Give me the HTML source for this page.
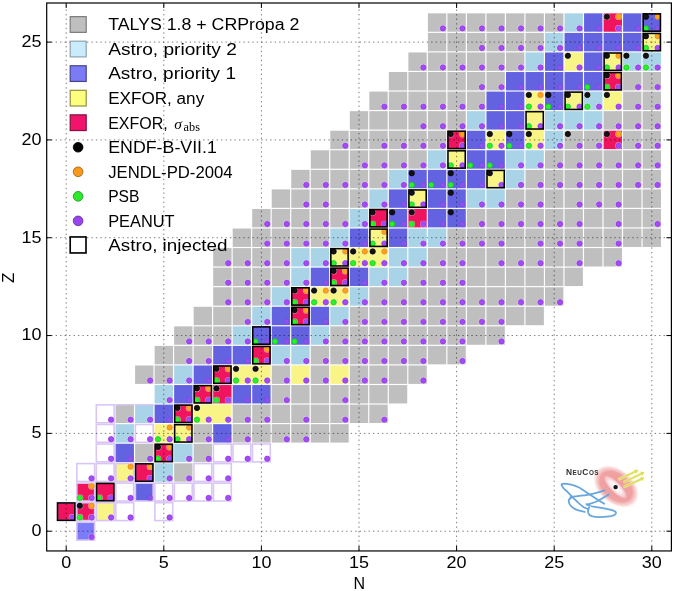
<!DOCTYPE html>
<html><head><meta charset="utf-8">
<style>
html,body{margin:0;padding:0;background:#fff;}
body{width:675px;height:591px;overflow:hidden;}
svg{display:block;will-change:transform;}
text{font-family:"Liberation Sans",sans-serif;font-size:16px;fill:#000;}
</style></head><body>
<svg width="675" height="591" viewBox="0 0 675 591">
<rect width="675" height="591" fill="#fff"/>
<g><rect x="427.90" y="13.33" width="18.36" height="18.40" fill="#bfbfbf"/><rect x="447.42" y="13.33" width="18.36" height="18.40" fill="#bfbfbf"/><rect x="466.94" y="13.33" width="18.36" height="18.40" fill="#bfbfbf"/><rect x="486.46" y="13.33" width="18.36" height="18.40" fill="#bfbfbf"/><rect x="505.98" y="13.33" width="18.36" height="18.40" fill="#bfbfbf"/><rect x="525.50" y="13.33" width="18.36" height="18.40" fill="#bfbfbf"/><rect x="545.02" y="13.33" width="18.36" height="18.40" fill="#bfbfbf"/><rect x="564.54" y="13.33" width="18.36" height="18.40" fill="#a9d4e7"/><rect x="584.06" y="13.33" width="18.36" height="18.40" fill="#6363e2"/><rect x="603.58" y="13.33" width="18.36" height="18.40" fill="#f0145f"/><rect x="623.10" y="13.33" width="18.36" height="18.40" fill="#6363e2"/><rect x="642.62" y="13.33" width="18.36" height="18.40" fill="#6363e2"/><rect x="427.90" y="32.90" width="18.36" height="18.40" fill="#bfbfbf"/><rect x="447.42" y="32.90" width="18.36" height="18.40" fill="#bfbfbf"/><rect x="466.94" y="32.90" width="18.36" height="18.40" fill="#bfbfbf"/><rect x="486.46" y="32.90" width="18.36" height="18.40" fill="#bfbfbf"/><rect x="505.98" y="32.90" width="18.36" height="18.40" fill="#bfbfbf"/><rect x="525.50" y="32.90" width="18.36" height="18.40" fill="#bfbfbf"/><rect x="545.02" y="32.90" width="18.36" height="18.40" fill="#a9d4e7"/><rect x="564.54" y="32.90" width="18.36" height="18.40" fill="#6363e2"/><rect x="584.06" y="32.90" width="18.36" height="18.40" fill="#6363e2"/><rect x="603.58" y="32.90" width="18.36" height="18.40" fill="#6363e2"/><rect x="623.10" y="32.90" width="18.36" height="18.40" fill="#6363e2"/><rect x="642.62" y="32.90" width="18.36" height="18.40" fill="#f8f486"/><rect x="408.38" y="52.46" width="18.36" height="18.40" fill="#bfbfbf"/><rect x="427.90" y="52.46" width="18.36" height="18.40" fill="#bfbfbf"/><rect x="447.42" y="52.46" width="18.36" height="18.40" fill="#bfbfbf"/><rect x="466.94" y="52.46" width="18.36" height="18.40" fill="#bfbfbf"/><rect x="486.46" y="52.46" width="18.36" height="18.40" fill="#bfbfbf"/><rect x="505.98" y="52.46" width="18.36" height="18.40" fill="#bfbfbf"/><rect x="525.50" y="52.46" width="18.36" height="18.40" fill="#a9d4e7"/><rect x="545.02" y="52.46" width="18.36" height="18.40" fill="#6363e2"/><rect x="564.54" y="52.46" width="18.36" height="18.40" fill="#f8f486"/><rect x="584.06" y="52.46" width="18.36" height="18.40" fill="#6363e2"/><rect x="603.58" y="52.46" width="18.36" height="18.40" fill="#f8f486"/><rect x="623.10" y="52.46" width="18.36" height="18.40" fill="#a9d4e7"/><rect x="642.62" y="52.46" width="18.36" height="18.40" fill="#a9d4e7"/><rect x="388.86" y="72.03" width="18.36" height="18.40" fill="#bfbfbf"/><rect x="408.38" y="72.03" width="18.36" height="18.40" fill="#bfbfbf"/><rect x="427.90" y="72.03" width="18.36" height="18.40" fill="#bfbfbf"/><rect x="447.42" y="72.03" width="18.36" height="18.40" fill="#bfbfbf"/><rect x="466.94" y="72.03" width="18.36" height="18.40" fill="#bfbfbf"/><rect x="486.46" y="72.03" width="18.36" height="18.40" fill="#bfbfbf"/><rect x="505.98" y="72.03" width="18.36" height="18.40" fill="#6363e2"/><rect x="525.50" y="72.03" width="18.36" height="18.40" fill="#6363e2"/><rect x="545.02" y="72.03" width="18.36" height="18.40" fill="#6363e2"/><rect x="564.54" y="72.03" width="18.36" height="18.40" fill="#6363e2"/><rect x="584.06" y="72.03" width="18.36" height="18.40" fill="#6363e2"/><rect x="603.58" y="72.03" width="18.36" height="18.40" fill="#f0145f"/><rect x="623.10" y="72.03" width="18.36" height="18.40" fill="#bfbfbf"/><rect x="642.62" y="72.03" width="18.36" height="18.40" fill="#bfbfbf"/><rect x="369.34" y="91.59" width="18.36" height="18.40" fill="#bfbfbf"/><rect x="388.86" y="91.59" width="18.36" height="18.40" fill="#bfbfbf"/><rect x="408.38" y="91.59" width="18.36" height="18.40" fill="#bfbfbf"/><rect x="427.90" y="91.59" width="18.36" height="18.40" fill="#bfbfbf"/><rect x="447.42" y="91.59" width="18.36" height="18.40" fill="#bfbfbf"/><rect x="466.94" y="91.59" width="18.36" height="18.40" fill="#bfbfbf"/><rect x="486.46" y="91.59" width="18.36" height="18.40" fill="#6363e2"/><rect x="505.98" y="91.59" width="18.36" height="18.40" fill="#6363e2"/><rect x="525.50" y="91.59" width="18.36" height="20.20" fill="#f8f486"/><rect x="545.02" y="91.59" width="18.36" height="18.40" fill="#6363e2"/><rect x="564.54" y="91.59" width="18.36" height="18.40" fill="#f8f486"/><rect x="584.06" y="91.59" width="18.36" height="18.40" fill="#a9d4e7"/><rect x="603.58" y="91.59" width="18.36" height="18.40" fill="#f8f486"/><rect x="623.10" y="91.59" width="18.36" height="18.40" fill="#bfbfbf"/><rect x="642.62" y="91.59" width="18.36" height="18.40" fill="#bfbfbf"/><rect x="349.82" y="111.15" width="18.36" height="18.40" fill="#bfbfbf"/><rect x="369.34" y="111.15" width="18.36" height="18.40" fill="#bfbfbf"/><rect x="388.86" y="111.15" width="18.36" height="18.40" fill="#bfbfbf"/><rect x="408.38" y="111.15" width="18.36" height="18.40" fill="#bfbfbf"/><rect x="427.90" y="111.15" width="18.36" height="18.40" fill="#bfbfbf"/><rect x="447.42" y="111.15" width="18.36" height="18.40" fill="#bfbfbf"/><rect x="466.94" y="111.15" width="18.36" height="18.40" fill="#a9d4e7"/><rect x="486.46" y="111.15" width="18.36" height="18.40" fill="#6363e2"/><rect x="505.98" y="111.15" width="18.36" height="18.40" fill="#6363e2"/><rect x="525.50" y="111.15" width="18.36" height="20.20" fill="#f8f486"/><rect x="545.02" y="111.15" width="18.36" height="18.40" fill="#a9d4e7"/><rect x="564.54" y="111.15" width="18.36" height="18.40" fill="#a9d4e7"/><rect x="584.06" y="111.15" width="18.36" height="18.40" fill="#a9d4e7"/><rect x="603.58" y="111.15" width="18.36" height="18.40" fill="#bfbfbf"/><rect x="623.10" y="111.15" width="18.36" height="18.40" fill="#bfbfbf"/><rect x="642.62" y="111.15" width="18.36" height="18.40" fill="#bfbfbf"/><rect x="330.30" y="130.72" width="18.36" height="18.40" fill="#bfbfbf"/><rect x="349.82" y="130.72" width="18.36" height="18.40" fill="#bfbfbf"/><rect x="369.34" y="130.72" width="18.36" height="18.40" fill="#bfbfbf"/><rect x="388.86" y="130.72" width="18.36" height="18.40" fill="#bfbfbf"/><rect x="408.38" y="130.72" width="18.36" height="18.40" fill="#bfbfbf"/><rect x="427.90" y="130.72" width="18.36" height="18.40" fill="#bfbfbf"/><rect x="447.42" y="130.72" width="18.36" height="18.40" fill="#f0145f"/><rect x="466.94" y="130.72" width="18.36" height="18.40" fill="#6363e2"/><rect x="486.46" y="130.72" width="18.36" height="18.40" fill="#f8f486"/><rect x="505.98" y="130.72" width="18.36" height="18.40" fill="#6363e2"/><rect x="525.50" y="130.72" width="18.36" height="18.40" fill="#f8f486"/><rect x="545.02" y="130.72" width="18.36" height="18.40" fill="#a9d4e7"/><rect x="564.54" y="130.72" width="18.36" height="18.40" fill="#bfbfbf"/><rect x="584.06" y="130.72" width="18.36" height="18.40" fill="#bfbfbf"/><rect x="603.58" y="130.72" width="18.36" height="18.40" fill="#f0145f"/><rect x="623.10" y="130.72" width="18.36" height="18.40" fill="#bfbfbf"/><rect x="642.62" y="130.72" width="18.36" height="18.40" fill="#bfbfbf"/><rect x="310.78" y="150.28" width="18.36" height="18.40" fill="#bfbfbf"/><rect x="330.30" y="150.28" width="18.36" height="18.40" fill="#bfbfbf"/><rect x="349.82" y="150.28" width="18.36" height="18.40" fill="#bfbfbf"/><rect x="369.34" y="150.28" width="18.36" height="18.40" fill="#bfbfbf"/><rect x="388.86" y="150.28" width="18.36" height="18.40" fill="#bfbfbf"/><rect x="408.38" y="150.28" width="18.36" height="18.40" fill="#bfbfbf"/><rect x="427.90" y="150.28" width="18.36" height="18.40" fill="#a9d4e7"/><rect x="447.42" y="150.28" width="18.36" height="18.40" fill="#f8f486"/><rect x="466.94" y="150.28" width="18.36" height="18.40" fill="#6363e2"/><rect x="486.46" y="150.28" width="18.36" height="18.40" fill="#6363e2"/><rect x="505.98" y="150.28" width="18.36" height="18.40" fill="#a9d4e7"/><rect x="525.50" y="150.28" width="18.36" height="18.40" fill="#a9d4e7"/><rect x="545.02" y="150.28" width="18.36" height="18.40" fill="#bfbfbf"/><rect x="564.54" y="150.28" width="18.36" height="18.40" fill="#bfbfbf"/><rect x="584.06" y="150.28" width="18.36" height="18.40" fill="#bfbfbf"/><rect x="603.58" y="150.28" width="18.36" height="18.40" fill="#bfbfbf"/><rect x="623.10" y="150.28" width="18.36" height="18.40" fill="#bfbfbf"/><rect x="642.62" y="150.28" width="18.36" height="18.40" fill="#bfbfbf"/><rect x="291.26" y="169.85" width="18.36" height="18.40" fill="#bfbfbf"/><rect x="310.78" y="169.85" width="18.36" height="18.40" fill="#bfbfbf"/><rect x="330.30" y="169.85" width="18.36" height="18.40" fill="#bfbfbf"/><rect x="349.82" y="169.85" width="18.36" height="18.40" fill="#bfbfbf"/><rect x="369.34" y="169.85" width="18.36" height="18.40" fill="#bfbfbf"/><rect x="388.86" y="169.85" width="18.36" height="18.40" fill="#a9d4e7"/><rect x="408.38" y="169.85" width="18.36" height="18.40" fill="#6363e2"/><rect x="427.90" y="169.85" width="18.36" height="18.40" fill="#6363e2"/><rect x="447.42" y="169.85" width="18.36" height="18.40" fill="#6363e2"/><rect x="466.94" y="169.85" width="18.36" height="18.40" fill="#6363e2"/><rect x="486.46" y="169.85" width="18.36" height="18.40" fill="#f8f486"/><rect x="505.98" y="169.85" width="18.36" height="18.40" fill="#a9d4e7"/><rect x="525.50" y="169.85" width="18.36" height="18.40" fill="#bfbfbf"/><rect x="545.02" y="169.85" width="18.36" height="18.40" fill="#bfbfbf"/><rect x="564.54" y="169.85" width="18.36" height="18.40" fill="#bfbfbf"/><rect x="584.06" y="169.85" width="18.36" height="18.40" fill="#bfbfbf"/><rect x="603.58" y="169.85" width="18.36" height="18.40" fill="#bfbfbf"/><rect x="623.10" y="169.85" width="18.36" height="18.40" fill="#bfbfbf"/><rect x="642.62" y="169.85" width="18.36" height="18.40" fill="#bfbfbf"/><rect x="271.74" y="189.41" width="18.36" height="18.40" fill="#bfbfbf"/><rect x="291.26" y="189.41" width="18.36" height="18.40" fill="#bfbfbf"/><rect x="310.78" y="189.41" width="18.36" height="18.40" fill="#bfbfbf"/><rect x="330.30" y="189.41" width="18.36" height="18.40" fill="#bfbfbf"/><rect x="349.82" y="189.41" width="18.36" height="18.40" fill="#bfbfbf"/><rect x="369.34" y="189.41" width="18.36" height="18.40" fill="#a9d4e7"/><rect x="388.86" y="189.41" width="18.36" height="18.40" fill="#6363e2"/><rect x="408.38" y="189.41" width="18.36" height="18.40" fill="#f8f486"/><rect x="427.90" y="189.41" width="18.36" height="18.40" fill="#6363e2"/><rect x="447.42" y="189.41" width="18.36" height="18.40" fill="#6363e2"/><rect x="466.94" y="189.41" width="18.36" height="18.40" fill="#a9d4e7"/><rect x="486.46" y="189.41" width="18.36" height="18.40" fill="#a9d4e7"/><rect x="505.98" y="189.41" width="18.36" height="18.40" fill="#bfbfbf"/><rect x="525.50" y="189.41" width="18.36" height="18.40" fill="#bfbfbf"/><rect x="545.02" y="189.41" width="18.36" height="18.40" fill="#bfbfbf"/><rect x="564.54" y="189.41" width="18.36" height="18.40" fill="#bfbfbf"/><rect x="584.06" y="189.41" width="18.36" height="18.40" fill="#bfbfbf"/><rect x="603.58" y="189.41" width="18.36" height="18.40" fill="#bfbfbf"/><rect x="623.10" y="189.41" width="18.36" height="18.40" fill="#bfbfbf"/><rect x="642.62" y="189.41" width="18.36" height="18.40" fill="#bfbfbf"/><rect x="252.22" y="208.97" width="18.36" height="18.40" fill="#bfbfbf"/><rect x="271.74" y="208.97" width="18.36" height="18.40" fill="#bfbfbf"/><rect x="291.26" y="208.97" width="18.36" height="18.40" fill="#bfbfbf"/><rect x="310.78" y="208.97" width="18.36" height="18.40" fill="#bfbfbf"/><rect x="330.30" y="208.97" width="18.36" height="18.40" fill="#bfbfbf"/><rect x="349.82" y="208.97" width="18.36" height="18.40" fill="#a9d4e7"/><rect x="369.34" y="208.97" width="18.36" height="18.40" fill="#f0145f"/><rect x="388.86" y="208.97" width="18.36" height="18.40" fill="#6363e2"/><rect x="408.38" y="208.97" width="18.36" height="18.40" fill="#f0145f"/><rect x="427.90" y="208.97" width="18.36" height="18.40" fill="#6363e2"/><rect x="447.42" y="208.97" width="18.36" height="18.40" fill="#6363e2"/><rect x="466.94" y="208.97" width="18.36" height="18.40" fill="#bfbfbf"/><rect x="486.46" y="208.97" width="18.36" height="18.40" fill="#bfbfbf"/><rect x="505.98" y="208.97" width="18.36" height="18.40" fill="#bfbfbf"/><rect x="525.50" y="208.97" width="18.36" height="18.40" fill="#bfbfbf"/><rect x="545.02" y="208.97" width="18.36" height="18.40" fill="#bfbfbf"/><rect x="564.54" y="208.97" width="18.36" height="18.40" fill="#bfbfbf"/><rect x="584.06" y="208.97" width="18.36" height="18.40" fill="#bfbfbf"/><rect x="603.58" y="208.97" width="18.36" height="18.40" fill="#bfbfbf"/><rect x="623.10" y="208.97" width="18.36" height="18.40" fill="#bfbfbf"/><rect x="642.62" y="208.97" width="18.36" height="18.40" fill="#bfbfbf"/><rect x="232.70" y="228.54" width="18.36" height="18.40" fill="#bfbfbf"/><rect x="252.22" y="228.54" width="18.36" height="18.40" fill="#bfbfbf"/><rect x="271.74" y="228.54" width="18.36" height="18.40" fill="#bfbfbf"/><rect x="291.26" y="228.54" width="18.36" height="18.40" fill="#bfbfbf"/><rect x="310.78" y="228.54" width="18.36" height="18.40" fill="#bfbfbf"/><rect x="330.30" y="228.54" width="18.36" height="18.40" fill="#a9d4e7"/><rect x="349.82" y="228.54" width="18.36" height="18.40" fill="#6363e2"/><rect x="369.34" y="228.54" width="18.36" height="20.20" fill="#f8f486"/><rect x="388.86" y="228.54" width="18.36" height="18.40" fill="#6363e2"/><rect x="408.38" y="228.54" width="18.36" height="18.40" fill="#a9d4e7"/><rect x="427.90" y="228.54" width="18.36" height="18.40" fill="#a9d4e7"/><rect x="447.42" y="228.54" width="18.36" height="18.40" fill="#bfbfbf"/><rect x="466.94" y="228.54" width="18.36" height="18.40" fill="#bfbfbf"/><rect x="486.46" y="228.54" width="18.36" height="18.40" fill="#bfbfbf"/><rect x="505.98" y="228.54" width="18.36" height="18.40" fill="#bfbfbf"/><rect x="525.50" y="228.54" width="18.36" height="18.40" fill="#bfbfbf"/><rect x="545.02" y="228.54" width="18.36" height="18.40" fill="#bfbfbf"/><rect x="564.54" y="228.54" width="18.36" height="18.40" fill="#bfbfbf"/><rect x="584.06" y="228.54" width="18.36" height="18.40" fill="#bfbfbf"/><rect x="603.58" y="228.54" width="18.36" height="18.40" fill="#bfbfbf"/><rect x="623.10" y="228.54" width="18.36" height="18.40" fill="#bfbfbf"/><rect x="642.62" y="228.54" width="18.36" height="18.40" fill="#bfbfbf"/><rect x="213.18" y="248.10" width="18.36" height="18.40" fill="#bfbfbf"/><rect x="232.70" y="248.10" width="18.36" height="18.40" fill="#bfbfbf"/><rect x="252.22" y="248.10" width="18.36" height="18.40" fill="#bfbfbf"/><rect x="271.74" y="248.10" width="18.36" height="18.40" fill="#bfbfbf"/><rect x="291.26" y="248.10" width="18.36" height="18.40" fill="#a9d4e7"/><rect x="310.78" y="248.10" width="18.36" height="18.40" fill="#a9d4e7"/><rect x="330.30" y="248.10" width="20.16" height="18.40" fill="#f8f486"/><rect x="349.82" y="248.10" width="20.16" height="18.40" fill="#f8f486"/><rect x="369.34" y="248.10" width="18.36" height="18.40" fill="#f8f486"/><rect x="388.86" y="248.10" width="18.36" height="18.40" fill="#a9d4e7"/><rect x="408.38" y="248.10" width="18.36" height="18.40" fill="#a9d4e7"/><rect x="427.90" y="248.10" width="18.36" height="18.40" fill="#bfbfbf"/><rect x="447.42" y="248.10" width="18.36" height="18.40" fill="#bfbfbf"/><rect x="466.94" y="248.10" width="18.36" height="18.40" fill="#bfbfbf"/><rect x="486.46" y="248.10" width="18.36" height="18.40" fill="#bfbfbf"/><rect x="505.98" y="248.10" width="18.36" height="18.40" fill="#bfbfbf"/><rect x="525.50" y="248.10" width="18.36" height="18.40" fill="#bfbfbf"/><rect x="545.02" y="248.10" width="18.36" height="18.40" fill="#bfbfbf"/><rect x="564.54" y="248.10" width="18.36" height="18.40" fill="#bfbfbf"/><rect x="584.06" y="248.10" width="18.36" height="18.40" fill="#bfbfbf"/><rect x="603.58" y="248.10" width="18.36" height="18.40" fill="#bfbfbf"/><rect x="213.18" y="267.67" width="18.36" height="18.40" fill="#bfbfbf"/><rect x="232.70" y="267.67" width="18.36" height="18.40" fill="#bfbfbf"/><rect x="252.22" y="267.67" width="18.36" height="18.40" fill="#bfbfbf"/><rect x="271.74" y="267.67" width="18.36" height="18.40" fill="#bfbfbf"/><rect x="291.26" y="267.67" width="18.36" height="18.40" fill="#a9d4e7"/><rect x="310.78" y="267.67" width="18.36" height="18.40" fill="#6363e2"/><rect x="330.30" y="267.67" width="18.36" height="18.40" fill="#f0145f"/><rect x="349.82" y="267.67" width="18.36" height="18.40" fill="#6363e2"/><rect x="369.34" y="267.67" width="18.36" height="18.40" fill="#a9d4e7"/><rect x="388.86" y="267.67" width="18.36" height="18.40" fill="#a9d4e7"/><rect x="408.38" y="267.67" width="18.36" height="18.40" fill="#bfbfbf"/><rect x="427.90" y="267.67" width="18.36" height="18.40" fill="#bfbfbf"/><rect x="447.42" y="267.67" width="18.36" height="18.40" fill="#bfbfbf"/><rect x="466.94" y="267.67" width="18.36" height="18.40" fill="#bfbfbf"/><rect x="486.46" y="267.67" width="18.36" height="18.40" fill="#bfbfbf"/><rect x="505.98" y="267.67" width="18.36" height="18.40" fill="#bfbfbf"/><rect x="525.50" y="267.67" width="18.36" height="18.40" fill="#bfbfbf"/><rect x="545.02" y="267.67" width="18.36" height="18.40" fill="#bfbfbf"/><rect x="564.54" y="267.67" width="18.36" height="18.40" fill="#bfbfbf"/><rect x="213.18" y="287.23" width="18.36" height="18.40" fill="#bfbfbf"/><rect x="232.70" y="287.23" width="18.36" height="18.40" fill="#bfbfbf"/><rect x="252.22" y="287.23" width="18.36" height="18.40" fill="#bfbfbf"/><rect x="271.74" y="287.23" width="18.36" height="18.40" fill="#a9d4e7"/><rect x="291.26" y="287.23" width="18.36" height="18.40" fill="#f0145f"/><rect x="310.78" y="287.23" width="20.16" height="18.40" fill="#f8f486"/><rect x="330.30" y="287.23" width="18.36" height="18.40" fill="#f8f486"/><rect x="349.82" y="287.23" width="18.36" height="18.40" fill="#a9d4e7"/><rect x="369.34" y="287.23" width="18.36" height="18.40" fill="#bfbfbf"/><rect x="388.86" y="287.23" width="18.36" height="18.40" fill="#bfbfbf"/><rect x="408.38" y="287.23" width="18.36" height="18.40" fill="#bfbfbf"/><rect x="427.90" y="287.23" width="18.36" height="18.40" fill="#bfbfbf"/><rect x="447.42" y="287.23" width="18.36" height="18.40" fill="#bfbfbf"/><rect x="466.94" y="287.23" width="18.36" height="18.40" fill="#bfbfbf"/><rect x="486.46" y="287.23" width="18.36" height="18.40" fill="#bfbfbf"/><rect x="505.98" y="287.23" width="18.36" height="18.40" fill="#bfbfbf"/><rect x="525.50" y="287.23" width="18.36" height="18.40" fill="#bfbfbf"/><rect x="545.02" y="287.23" width="18.36" height="18.40" fill="#bfbfbf"/><rect x="193.66" y="306.79" width="18.36" height="18.40" fill="#bfbfbf"/><rect x="213.18" y="306.79" width="18.36" height="18.40" fill="#bfbfbf"/><rect x="232.70" y="306.79" width="18.36" height="18.40" fill="#bfbfbf"/><rect x="252.22" y="306.79" width="18.36" height="18.40" fill="#a9d4e7"/><rect x="271.74" y="306.79" width="18.36" height="18.40" fill="#6363e2"/><rect x="291.26" y="306.79" width="18.36" height="18.40" fill="#f0145f"/><rect x="310.78" y="306.79" width="18.36" height="18.40" fill="#6363e2"/><rect x="330.30" y="306.79" width="18.36" height="18.40" fill="#a9d4e7"/><rect x="349.82" y="306.79" width="18.36" height="18.40" fill="#bfbfbf"/><rect x="369.34" y="306.79" width="18.36" height="18.40" fill="#bfbfbf"/><rect x="388.86" y="306.79" width="18.36" height="18.40" fill="#bfbfbf"/><rect x="408.38" y="306.79" width="18.36" height="18.40" fill="#bfbfbf"/><rect x="427.90" y="306.79" width="18.36" height="18.40" fill="#bfbfbf"/><rect x="447.42" y="306.79" width="18.36" height="18.40" fill="#bfbfbf"/><rect x="466.94" y="306.79" width="18.36" height="18.40" fill="#bfbfbf"/><rect x="486.46" y="306.79" width="18.36" height="18.40" fill="#bfbfbf"/><rect x="505.98" y="306.79" width="18.36" height="18.40" fill="#bfbfbf"/><rect x="525.50" y="306.79" width="18.36" height="18.40" fill="#bfbfbf"/><rect x="174.14" y="326.36" width="18.36" height="18.40" fill="#bfbfbf"/><rect x="193.66" y="326.36" width="18.36" height="18.40" fill="#bfbfbf"/><rect x="213.18" y="326.36" width="18.36" height="18.40" fill="#bfbfbf"/><rect x="232.70" y="326.36" width="18.36" height="18.40" fill="#a9d4e7"/><rect x="252.22" y="326.36" width="18.36" height="18.40" fill="#6363e2"/><rect x="271.74" y="326.36" width="18.36" height="18.40" fill="#6363e2"/><rect x="291.26" y="326.36" width="18.36" height="18.40" fill="#6363e2"/><rect x="310.78" y="326.36" width="18.36" height="18.40" fill="#a9d4e7"/><rect x="330.30" y="326.36" width="18.36" height="18.40" fill="#bfbfbf"/><rect x="349.82" y="326.36" width="18.36" height="18.40" fill="#bfbfbf"/><rect x="369.34" y="326.36" width="18.36" height="18.40" fill="#bfbfbf"/><rect x="388.86" y="326.36" width="18.36" height="18.40" fill="#bfbfbf"/><rect x="408.38" y="326.36" width="18.36" height="18.40" fill="#bfbfbf"/><rect x="427.90" y="326.36" width="18.36" height="18.40" fill="#bfbfbf"/><rect x="447.42" y="326.36" width="18.36" height="18.40" fill="#bfbfbf"/><rect x="466.94" y="326.36" width="18.36" height="18.40" fill="#bfbfbf"/><rect x="486.46" y="326.36" width="18.36" height="18.40" fill="#bfbfbf"/><rect x="154.62" y="345.92" width="18.36" height="18.40" fill="#bfbfbf"/><rect x="174.14" y="345.92" width="18.36" height="18.40" fill="#bfbfbf"/><rect x="193.66" y="345.92" width="18.36" height="18.40" fill="#bfbfbf"/><rect x="213.18" y="345.92" width="18.36" height="18.40" fill="#6363e2"/><rect x="232.70" y="345.92" width="18.36" height="18.40" fill="#6363e2"/><rect x="252.22" y="345.92" width="18.36" height="18.40" fill="#f0145f"/><rect x="271.74" y="345.92" width="18.36" height="18.40" fill="#a9d4e7"/><rect x="291.26" y="345.92" width="18.36" height="18.40" fill="#a9d4e7"/><rect x="310.78" y="345.92" width="18.36" height="18.40" fill="#bfbfbf"/><rect x="330.30" y="345.92" width="18.36" height="18.40" fill="#bfbfbf"/><rect x="349.82" y="345.92" width="18.36" height="18.40" fill="#bfbfbf"/><rect x="369.34" y="345.92" width="18.36" height="18.40" fill="#bfbfbf"/><rect x="388.86" y="345.92" width="18.36" height="18.40" fill="#bfbfbf"/><rect x="408.38" y="345.92" width="18.36" height="18.40" fill="#bfbfbf"/><rect x="427.90" y="345.92" width="18.36" height="18.40" fill="#bfbfbf"/><rect x="447.42" y="345.92" width="18.36" height="18.40" fill="#bfbfbf"/><rect x="135.10" y="365.49" width="18.36" height="18.40" fill="#bfbfbf"/><rect x="154.62" y="365.49" width="18.36" height="18.40" fill="#bfbfbf"/><rect x="174.14" y="365.49" width="18.36" height="18.40" fill="#a9d4e7"/><rect x="193.66" y="365.49" width="18.36" height="18.40" fill="#6363e2"/><rect x="213.18" y="365.49" width="18.36" height="18.40" fill="#f0145f"/><rect x="232.70" y="365.49" width="20.16" height="18.40" fill="#f8f486"/><rect x="252.22" y="365.49" width="18.36" height="18.40" fill="#f8f486"/><rect x="271.74" y="365.49" width="18.36" height="18.40" fill="#bfbfbf"/><rect x="291.26" y="365.49" width="18.36" height="18.40" fill="#f8f486"/><rect x="310.78" y="365.49" width="18.36" height="18.40" fill="#bfbfbf"/><rect x="330.30" y="365.49" width="18.36" height="18.40" fill="#f8f486"/><rect x="349.82" y="365.49" width="18.36" height="18.40" fill="#bfbfbf"/><rect x="369.34" y="365.49" width="18.36" height="18.40" fill="#bfbfbf"/><rect x="388.86" y="365.49" width="18.36" height="18.40" fill="#bfbfbf"/><rect x="408.38" y="365.49" width="18.36" height="18.40" fill="#bfbfbf"/><rect x="154.62" y="385.05" width="18.36" height="18.40" fill="#a9d4e7"/><rect x="174.14" y="385.05" width="18.36" height="18.40" fill="#6363e2"/><rect x="193.66" y="385.05" width="18.36" height="18.40" fill="#f0145f"/><rect x="213.18" y="385.05" width="18.36" height="18.40" fill="#f0145f"/><rect x="232.70" y="385.05" width="18.36" height="18.40" fill="#6363e2"/><rect x="252.22" y="385.05" width="18.36" height="18.40" fill="#6363e2"/><rect x="271.74" y="385.05" width="18.36" height="18.40" fill="#bfbfbf"/><rect x="291.26" y="385.05" width="18.36" height="18.40" fill="#bfbfbf"/><rect x="310.78" y="385.05" width="18.36" height="18.40" fill="#bfbfbf"/><rect x="330.30" y="385.05" width="18.36" height="18.40" fill="#bfbfbf"/><rect x="349.82" y="385.05" width="18.36" height="18.40" fill="#bfbfbf"/><rect x="369.34" y="385.05" width="18.36" height="18.40" fill="#bfbfbf"/><rect x="388.86" y="385.05" width="18.36" height="18.40" fill="#bfbfbf"/><rect x="96.33" y="404.88" width="17.82" height="17.86" fill="#ffffff" stroke="#d9c6f5" stroke-width="1.6"/><rect x="115.58" y="404.61" width="18.36" height="18.40" fill="#bfbfbf"/><rect x="135.10" y="404.61" width="18.36" height="18.40" fill="#a9d4e7"/><rect x="154.62" y="404.61" width="18.36" height="18.40" fill="#6363e2"/><rect x="174.14" y="404.61" width="18.36" height="18.40" fill="#f0145f"/><rect x="193.66" y="404.61" width="20.16" height="18.40" fill="#f8f486"/><rect x="213.18" y="404.61" width="18.36" height="18.40" fill="#f8f486"/><rect x="232.70" y="404.61" width="18.36" height="18.40" fill="#bfbfbf"/><rect x="252.22" y="404.61" width="18.36" height="18.40" fill="#bfbfbf"/><rect x="271.74" y="404.61" width="18.36" height="18.40" fill="#bfbfbf"/><rect x="291.26" y="404.61" width="18.36" height="18.40" fill="#bfbfbf"/><rect x="310.78" y="404.61" width="18.36" height="18.40" fill="#bfbfbf"/><rect x="330.30" y="404.61" width="18.36" height="18.40" fill="#bfbfbf"/><rect x="349.82" y="404.61" width="18.36" height="18.40" fill="#bfbfbf"/><rect x="369.34" y="404.61" width="18.36" height="18.40" fill="#bfbfbf"/><rect x="96.33" y="424.45" width="17.82" height="17.86" fill="#ffffff" stroke="#d9c6f5" stroke-width="1.6"/><rect x="115.58" y="424.18" width="18.36" height="18.40" fill="#a9d4e7"/><rect x="135.37" y="424.45" width="17.82" height="17.86" fill="#ffffff" stroke="#d9c6f5" stroke-width="1.6"/><rect x="154.62" y="424.18" width="20.16" height="18.40" fill="#f8f486"/><rect x="174.14" y="424.18" width="18.36" height="18.40" fill="#f8f486"/><rect x="193.66" y="424.18" width="18.36" height="18.40" fill="#bfbfbf"/><rect x="213.18" y="424.18" width="18.36" height="18.40" fill="#6363e2"/><rect x="232.70" y="424.18" width="18.36" height="18.40" fill="#bfbfbf"/><rect x="252.22" y="424.18" width="18.36" height="18.40" fill="#bfbfbf"/><rect x="271.74" y="424.18" width="18.36" height="18.40" fill="#bfbfbf"/><rect x="291.26" y="424.18" width="18.36" height="18.40" fill="#bfbfbf"/><rect x="310.78" y="424.18" width="18.36" height="18.40" fill="#bfbfbf"/><rect x="330.30" y="424.18" width="18.36" height="18.40" fill="#bfbfbf"/><rect x="96.33" y="444.01" width="17.82" height="17.86" fill="#ffffff" stroke="#d9c6f5" stroke-width="1.6"/><rect x="115.58" y="443.74" width="18.36" height="18.40" fill="#6363e2"/><rect x="135.10" y="443.74" width="18.36" height="18.40" fill="#bfbfbf"/><rect x="154.62" y="443.74" width="18.36" height="18.40" fill="#f0145f"/><rect x="174.14" y="443.74" width="18.36" height="18.40" fill="#a9d4e7"/><rect x="193.66" y="443.74" width="18.36" height="18.40" fill="#bfbfbf"/><rect x="213.45" y="444.01" width="17.82" height="17.86" fill="#ffffff" stroke="#d9c6f5" stroke-width="1.6"/><rect x="232.97" y="444.01" width="17.82" height="17.86" fill="#ffffff" stroke="#d9c6f5" stroke-width="1.6"/><rect x="252.49" y="444.01" width="17.82" height="17.86" fill="#ffffff" stroke="#d9c6f5" stroke-width="1.6"/><rect x="76.81" y="463.58" width="17.82" height="17.86" fill="#ffffff" stroke="#d9c6f5" stroke-width="1.6"/><rect x="96.33" y="463.58" width="17.82" height="17.86" fill="#ffffff" stroke="#d9c6f5" stroke-width="1.6"/><rect x="115.85" y="463.58" width="17.82" height="17.86" fill="#f8f486" stroke="#d9c6f5" stroke-width="1.6"/><rect x="135.37" y="463.58" width="17.82" height="17.86" fill="#f0145f" stroke="#d9c6f5" stroke-width="1.6"/><rect x="154.62" y="463.31" width="18.36" height="18.40" fill="#a9d4e7"/><rect x="174.14" y="463.31" width="18.36" height="18.40" fill="#bfbfbf"/><rect x="193.93" y="463.58" width="17.82" height="17.86" fill="#ffffff" stroke="#d9c6f5" stroke-width="1.6"/><rect x="213.45" y="463.58" width="17.82" height="17.86" fill="#ffffff" stroke="#d9c6f5" stroke-width="1.6"/><rect x="76.81" y="483.14" width="17.82" height="17.86" fill="#f0145f" stroke="#d9c6f5" stroke-width="1.6"/><rect x="96.33" y="483.14" width="17.82" height="17.86" fill="#f0145f" stroke="#d9c6f5" stroke-width="1.6"/><rect x="115.85" y="483.14" width="17.82" height="17.86" fill="#ffffff" stroke="#d9c6f5" stroke-width="1.6"/><rect x="135.37" y="483.14" width="17.82" height="17.86" fill="#6363e2" stroke="#d9c6f5" stroke-width="1.6"/><rect x="154.89" y="483.14" width="17.82" height="17.86" fill="#ffffff" stroke="#d9c6f5" stroke-width="1.6"/><rect x="174.41" y="483.14" width="17.82" height="17.86" fill="#ffffff" stroke="#d9c6f5" stroke-width="1.6"/><rect x="193.93" y="483.14" width="17.82" height="17.86" fill="#ffffff" stroke="#d9c6f5" stroke-width="1.6"/><rect x="213.45" y="483.14" width="17.82" height="17.86" fill="#ffffff" stroke="#d9c6f5" stroke-width="1.6"/><rect x="57.29" y="502.70" width="17.82" height="17.86" fill="#f0145f" stroke="#d9c6f5" stroke-width="1.6"/><rect x="76.81" y="502.70" width="17.82" height="17.86" fill="#f0145f" stroke="#d9c6f5" stroke-width="1.6"/><rect x="96.33" y="502.70" width="17.82" height="17.86" fill="#f8f486" stroke="#d9c6f5" stroke-width="1.6"/><rect x="115.85" y="502.70" width="17.82" height="17.86" fill="#ffffff" stroke="#d9c6f5" stroke-width="1.6"/><rect x="154.89" y="502.70" width="17.82" height="17.86" fill="#ffffff" stroke="#d9c6f5" stroke-width="1.6"/><rect x="76.81" y="522.27" width="17.82" height="17.86" fill="#7c7cf8" stroke="#d9c6f5" stroke-width="1.6"/></g>
<g stroke="#d9c6f5" stroke-width="1.5"><line x1="115.30" y1="404.73" x2="134.22" y2="404.73"/><line x1="134.82" y1="404.73" x2="153.74" y2="404.73"/></g>
<g><circle cx="442.93" cy="28.39" r="3.4" fill="#fbeeff" opacity="0.65"/><circle cx="442.93" cy="28.39" r="2.7" fill="#a44af8" stroke="#8a36dc" stroke-width="0.7"/><circle cx="462.45" cy="28.39" r="3.4" fill="#fbeeff" opacity="0.65"/><circle cx="462.45" cy="28.39" r="2.7" fill="#a44af8" stroke="#8a36dc" stroke-width="0.7"/><circle cx="481.97" cy="28.39" r="3.4" fill="#fbeeff" opacity="0.65"/><circle cx="481.97" cy="28.39" r="2.7" fill="#a44af8" stroke="#8a36dc" stroke-width="0.7"/><circle cx="501.49" cy="28.39" r="3.4" fill="#fbeeff" opacity="0.65"/><circle cx="501.49" cy="28.39" r="2.7" fill="#a44af8" stroke="#8a36dc" stroke-width="0.7"/><circle cx="521.01" cy="28.39" r="3.4" fill="#fbeeff" opacity="0.65"/><circle cx="521.01" cy="28.39" r="2.7" fill="#a44af8" stroke="#8a36dc" stroke-width="0.7"/><circle cx="540.53" cy="28.39" r="3.4" fill="#fbeeff" opacity="0.65"/><circle cx="540.53" cy="28.39" r="2.7" fill="#a44af8" stroke="#8a36dc" stroke-width="0.7"/><circle cx="560.05" cy="28.39" r="3.4" fill="#fbeeff" opacity="0.65"/><circle cx="560.05" cy="28.39" r="2.7" fill="#a44af8" stroke="#8a36dc" stroke-width="0.7"/><circle cx="579.57" cy="28.39" r="3.4" fill="#fbeeff" opacity="0.65"/><circle cx="579.57" cy="28.39" r="2.7" fill="#a44af8" stroke="#8a36dc" stroke-width="0.7"/><circle cx="599.09" cy="28.39" r="2.7" fill="#a44af8" stroke="#8a36dc" stroke-width="0.7" opacity="0.6"/><circle cx="606.91" cy="16.69" r="3.4" fill="#fbeeff" opacity="0.65"/><circle cx="606.91" cy="16.69" r="2.7" fill="#121212" stroke="#000000" stroke-width="0.7"/><circle cx="618.61" cy="16.69" r="3.4" fill="#fbeeff" opacity="0.65"/><circle cx="618.61" cy="16.69" r="2.7" fill="#ffa11c" stroke="#e08a0c" stroke-width="0.7"/><circle cx="618.61" cy="28.39" r="3.4" fill="#fbeeff" opacity="0.65"/><circle cx="618.61" cy="28.39" r="2.7" fill="#a44af8" stroke="#8a36dc" stroke-width="0.7"/><circle cx="638.13" cy="28.39" r="2.7" fill="#a44af8" stroke="#8a36dc" stroke-width="0.7" opacity="0.6"/><circle cx="645.95" cy="16.69" r="2.7" fill="#121212" stroke="#000000" stroke-width="0.7"/><circle cx="657.65" cy="16.69" r="2.7" fill="#ffa11c" stroke="#e08a0c" stroke-width="0.7"/><circle cx="645.95" cy="28.39" r="2.7" fill="#28f228" stroke="#16c416" stroke-width="0.7"/><circle cx="657.65" cy="28.39" r="2.7" fill="#a44af8" stroke="#8a36dc" stroke-width="0.7" opacity="0.6"/><circle cx="481.97" cy="47.95" r="3.4" fill="#fbeeff" opacity="0.65"/><circle cx="481.97" cy="47.95" r="2.7" fill="#a44af8" stroke="#8a36dc" stroke-width="0.7"/><circle cx="501.49" cy="47.95" r="3.4" fill="#fbeeff" opacity="0.65"/><circle cx="501.49" cy="47.95" r="2.7" fill="#a44af8" stroke="#8a36dc" stroke-width="0.7"/><circle cx="521.01" cy="47.95" r="3.4" fill="#fbeeff" opacity="0.65"/><circle cx="521.01" cy="47.95" r="2.7" fill="#a44af8" stroke="#8a36dc" stroke-width="0.7"/><circle cx="540.53" cy="47.95" r="3.4" fill="#fbeeff" opacity="0.65"/><circle cx="540.53" cy="47.95" r="2.7" fill="#a44af8" stroke="#8a36dc" stroke-width="0.7"/><circle cx="560.05" cy="47.95" r="3.4" fill="#fbeeff" opacity="0.65"/><circle cx="560.05" cy="47.95" r="2.7" fill="#a44af8" stroke="#8a36dc" stroke-width="0.7"/><circle cx="579.57" cy="47.95" r="2.7" fill="#a44af8" stroke="#8a36dc" stroke-width="0.7" opacity="0.6"/><circle cx="599.09" cy="47.95" r="2.7" fill="#a44af8" stroke="#8a36dc" stroke-width="0.7" opacity="0.6"/><circle cx="618.61" cy="47.95" r="2.7" fill="#a44af8" stroke="#8a36dc" stroke-width="0.7" opacity="0.6"/><circle cx="638.13" cy="47.95" r="2.7" fill="#a44af8" stroke="#8a36dc" stroke-width="0.7" opacity="0.6"/><circle cx="645.95" cy="36.25" r="3.4" fill="#fbeeff" opacity="0.65"/><circle cx="645.95" cy="36.25" r="2.7" fill="#121212" stroke="#000000" stroke-width="0.7"/><circle cx="657.65" cy="36.25" r="3.4" fill="#fbeeff" opacity="0.65"/><circle cx="657.65" cy="36.25" r="2.7" fill="#ffa11c" stroke="#e08a0c" stroke-width="0.7"/><circle cx="645.95" cy="47.95" r="3.4" fill="#fbeeff" opacity="0.65"/><circle cx="645.95" cy="47.95" r="2.7" fill="#28f228" stroke="#16c416" stroke-width="0.7"/><circle cx="657.65" cy="47.95" r="3.4" fill="#fbeeff" opacity="0.65"/><circle cx="657.65" cy="47.95" r="2.7" fill="#a44af8" stroke="#8a36dc" stroke-width="0.7"/><circle cx="423.41" cy="67.51" r="3.4" fill="#fbeeff" opacity="0.65"/><circle cx="423.41" cy="67.51" r="2.7" fill="#a44af8" stroke="#8a36dc" stroke-width="0.7"/><circle cx="442.93" cy="67.51" r="3.4" fill="#fbeeff" opacity="0.65"/><circle cx="442.93" cy="67.51" r="2.7" fill="#a44af8" stroke="#8a36dc" stroke-width="0.7"/><circle cx="462.45" cy="67.51" r="3.4" fill="#fbeeff" opacity="0.65"/><circle cx="462.45" cy="67.51" r="2.7" fill="#a44af8" stroke="#8a36dc" stroke-width="0.7"/><circle cx="481.97" cy="67.51" r="3.4" fill="#fbeeff" opacity="0.65"/><circle cx="481.97" cy="67.51" r="2.7" fill="#a44af8" stroke="#8a36dc" stroke-width="0.7"/><circle cx="501.49" cy="67.51" r="3.4" fill="#fbeeff" opacity="0.65"/><circle cx="501.49" cy="67.51" r="2.7" fill="#a44af8" stroke="#8a36dc" stroke-width="0.7"/><circle cx="521.01" cy="67.51" r="3.4" fill="#fbeeff" opacity="0.65"/><circle cx="521.01" cy="67.51" r="2.7" fill="#a44af8" stroke="#8a36dc" stroke-width="0.7"/><circle cx="540.53" cy="67.51" r="3.4" fill="#fbeeff" opacity="0.65"/><circle cx="540.53" cy="67.51" r="2.7" fill="#a44af8" stroke="#8a36dc" stroke-width="0.7"/><circle cx="560.05" cy="67.51" r="2.7" fill="#a44af8" stroke="#8a36dc" stroke-width="0.7" opacity="0.6"/><circle cx="567.87" cy="55.81" r="3.4" fill="#fbeeff" opacity="0.65"/><circle cx="567.87" cy="55.81" r="2.7" fill="#121212" stroke="#000000" stroke-width="0.7"/><circle cx="579.57" cy="67.51" r="3.4" fill="#fbeeff" opacity="0.65"/><circle cx="579.57" cy="67.51" r="2.7" fill="#a44af8" stroke="#8a36dc" stroke-width="0.7"/><circle cx="599.09" cy="67.51" r="2.7" fill="#a44af8" stroke="#8a36dc" stroke-width="0.7" opacity="0.6"/><circle cx="606.91" cy="55.81" r="3.4" fill="#fbeeff" opacity="0.65"/><circle cx="606.91" cy="55.81" r="2.7" fill="#121212" stroke="#000000" stroke-width="0.7"/><circle cx="618.61" cy="55.81" r="3.4" fill="#fbeeff" opacity="0.65"/><circle cx="618.61" cy="55.81" r="2.7" fill="#ffa11c" stroke="#e08a0c" stroke-width="0.7"/><circle cx="606.91" cy="67.51" r="3.4" fill="#fbeeff" opacity="0.65"/><circle cx="606.91" cy="67.51" r="2.7" fill="#28f228" stroke="#16c416" stroke-width="0.7"/><circle cx="618.61" cy="67.51" r="3.4" fill="#fbeeff" opacity="0.65"/><circle cx="618.61" cy="67.51" r="2.7" fill="#a44af8" stroke="#8a36dc" stroke-width="0.7"/><circle cx="626.43" cy="55.81" r="3.4" fill="#fbeeff" opacity="0.65"/><circle cx="626.43" cy="55.81" r="2.7" fill="#121212" stroke="#000000" stroke-width="0.7"/><circle cx="626.43" cy="67.51" r="3.4" fill="#fbeeff" opacity="0.65"/><circle cx="626.43" cy="67.51" r="2.7" fill="#28f228" stroke="#16c416" stroke-width="0.7"/><circle cx="638.13" cy="67.51" r="3.4" fill="#fbeeff" opacity="0.65"/><circle cx="638.13" cy="67.51" r="2.7" fill="#a44af8" stroke="#8a36dc" stroke-width="0.7"/><circle cx="645.95" cy="55.81" r="3.4" fill="#fbeeff" opacity="0.65"/><circle cx="645.95" cy="55.81" r="2.7" fill="#121212" stroke="#000000" stroke-width="0.7"/><circle cx="645.95" cy="67.51" r="3.4" fill="#fbeeff" opacity="0.65"/><circle cx="645.95" cy="67.51" r="2.7" fill="#28f228" stroke="#16c416" stroke-width="0.7"/><circle cx="657.65" cy="67.51" r="3.4" fill="#fbeeff" opacity="0.65"/><circle cx="657.65" cy="67.51" r="2.7" fill="#a44af8" stroke="#8a36dc" stroke-width="0.7"/><circle cx="481.97" cy="87.08" r="3.4" fill="#fbeeff" opacity="0.65"/><circle cx="481.97" cy="87.08" r="2.7" fill="#a44af8" stroke="#8a36dc" stroke-width="0.7"/><circle cx="501.49" cy="87.08" r="3.4" fill="#fbeeff" opacity="0.65"/><circle cx="501.49" cy="87.08" r="2.7" fill="#a44af8" stroke="#8a36dc" stroke-width="0.7"/><circle cx="521.01" cy="87.08" r="2.7" fill="#a44af8" stroke="#8a36dc" stroke-width="0.7" opacity="0.6"/><circle cx="540.53" cy="87.08" r="2.7" fill="#a44af8" stroke="#8a36dc" stroke-width="0.7" opacity="0.6"/><circle cx="560.05" cy="87.08" r="2.7" fill="#a44af8" stroke="#8a36dc" stroke-width="0.7" opacity="0.6"/><circle cx="579.57" cy="87.08" r="2.7" fill="#a44af8" stroke="#8a36dc" stroke-width="0.7" opacity="0.6"/><circle cx="587.39" cy="87.08" r="2.7" fill="#28f228" stroke="#16c416" stroke-width="0.7"/><circle cx="599.09" cy="87.08" r="2.7" fill="#a44af8" stroke="#8a36dc" stroke-width="0.7" opacity="0.6"/><circle cx="606.91" cy="75.38" r="3.4" fill="#fbeeff" opacity="0.65"/><circle cx="606.91" cy="75.38" r="2.7" fill="#121212" stroke="#000000" stroke-width="0.7"/><circle cx="618.61" cy="75.38" r="3.4" fill="#fbeeff" opacity="0.65"/><circle cx="618.61" cy="75.38" r="2.7" fill="#ffa11c" stroke="#e08a0c" stroke-width="0.7"/><circle cx="606.91" cy="87.08" r="3.4" fill="#fbeeff" opacity="0.65"/><circle cx="606.91" cy="87.08" r="2.7" fill="#28f228" stroke="#16c416" stroke-width="0.7"/><circle cx="618.61" cy="87.08" r="3.4" fill="#fbeeff" opacity="0.65"/><circle cx="618.61" cy="87.08" r="2.7" fill="#a44af8" stroke="#8a36dc" stroke-width="0.7"/><circle cx="638.13" cy="87.08" r="3.4" fill="#fbeeff" opacity="0.65"/><circle cx="638.13" cy="87.08" r="2.7" fill="#a44af8" stroke="#8a36dc" stroke-width="0.7"/><circle cx="657.65" cy="87.08" r="3.4" fill="#fbeeff" opacity="0.65"/><circle cx="657.65" cy="87.08" r="2.7" fill="#a44af8" stroke="#8a36dc" stroke-width="0.7"/><circle cx="384.37" cy="106.64" r="3.4" fill="#fbeeff" opacity="0.65"/><circle cx="384.37" cy="106.64" r="2.7" fill="#a44af8" stroke="#8a36dc" stroke-width="0.7"/><circle cx="403.89" cy="106.64" r="3.4" fill="#fbeeff" opacity="0.65"/><circle cx="403.89" cy="106.64" r="2.7" fill="#a44af8" stroke="#8a36dc" stroke-width="0.7"/><circle cx="423.41" cy="106.64" r="3.4" fill="#fbeeff" opacity="0.65"/><circle cx="423.41" cy="106.64" r="2.7" fill="#a44af8" stroke="#8a36dc" stroke-width="0.7"/><circle cx="442.93" cy="106.64" r="3.4" fill="#fbeeff" opacity="0.65"/><circle cx="442.93" cy="106.64" r="2.7" fill="#a44af8" stroke="#8a36dc" stroke-width="0.7"/><circle cx="462.45" cy="106.64" r="3.4" fill="#fbeeff" opacity="0.65"/><circle cx="462.45" cy="106.64" r="2.7" fill="#a44af8" stroke="#8a36dc" stroke-width="0.7"/><circle cx="481.97" cy="106.64" r="3.4" fill="#fbeeff" opacity="0.65"/><circle cx="481.97" cy="106.64" r="2.7" fill="#a44af8" stroke="#8a36dc" stroke-width="0.7"/><circle cx="501.49" cy="106.64" r="2.7" fill="#a44af8" stroke="#8a36dc" stroke-width="0.7" opacity="0.6"/><circle cx="521.01" cy="106.64" r="2.7" fill="#a44af8" stroke="#8a36dc" stroke-width="0.7" opacity="0.6"/><circle cx="528.83" cy="94.94" r="3.4" fill="#fbeeff" opacity="0.65"/><circle cx="528.83" cy="94.94" r="2.7" fill="#121212" stroke="#000000" stroke-width="0.7"/><circle cx="540.53" cy="94.94" r="3.4" fill="#fbeeff" opacity="0.65"/><circle cx="540.53" cy="94.94" r="2.7" fill="#ffa11c" stroke="#e08a0c" stroke-width="0.7"/><circle cx="528.83" cy="106.64" r="3.4" fill="#fbeeff" opacity="0.65"/><circle cx="528.83" cy="106.64" r="2.7" fill="#28f228" stroke="#16c416" stroke-width="0.7"/><circle cx="540.53" cy="106.64" r="3.4" fill="#fbeeff" opacity="0.65"/><circle cx="540.53" cy="106.64" r="2.7" fill="#a44af8" stroke="#8a36dc" stroke-width="0.7"/><circle cx="548.35" cy="94.94" r="2.7" fill="#121212" stroke="#000000" stroke-width="0.7"/><circle cx="548.35" cy="106.64" r="2.7" fill="#28f228" stroke="#16c416" stroke-width="0.7"/><circle cx="560.05" cy="106.64" r="2.7" fill="#a44af8" stroke="#8a36dc" stroke-width="0.7" opacity="0.6"/><circle cx="567.87" cy="94.94" r="3.4" fill="#fbeeff" opacity="0.65"/><circle cx="567.87" cy="94.94" r="2.7" fill="#121212" stroke="#000000" stroke-width="0.7"/><circle cx="567.87" cy="106.64" r="3.4" fill="#fbeeff" opacity="0.65"/><circle cx="567.87" cy="106.64" r="2.7" fill="#28f228" stroke="#16c416" stroke-width="0.7"/><circle cx="579.57" cy="106.64" r="3.4" fill="#fbeeff" opacity="0.65"/><circle cx="579.57" cy="106.64" r="2.7" fill="#a44af8" stroke="#8a36dc" stroke-width="0.7"/><circle cx="587.39" cy="94.94" r="3.4" fill="#fbeeff" opacity="0.65"/><circle cx="587.39" cy="94.94" r="2.7" fill="#121212" stroke="#000000" stroke-width="0.7"/><circle cx="587.39" cy="106.64" r="3.4" fill="#fbeeff" opacity="0.65"/><circle cx="587.39" cy="106.64" r="2.7" fill="#28f228" stroke="#16c416" stroke-width="0.7"/><circle cx="599.09" cy="106.64" r="3.4" fill="#fbeeff" opacity="0.65"/><circle cx="599.09" cy="106.64" r="2.7" fill="#a44af8" stroke="#8a36dc" stroke-width="0.7"/><circle cx="606.91" cy="94.94" r="3.4" fill="#fbeeff" opacity="0.65"/><circle cx="606.91" cy="94.94" r="2.7" fill="#121212" stroke="#000000" stroke-width="0.7"/><circle cx="618.61" cy="106.64" r="3.4" fill="#fbeeff" opacity="0.65"/><circle cx="618.61" cy="106.64" r="2.7" fill="#a44af8" stroke="#8a36dc" stroke-width="0.7"/><circle cx="638.13" cy="106.64" r="3.4" fill="#fbeeff" opacity="0.65"/><circle cx="638.13" cy="106.64" r="2.7" fill="#a44af8" stroke="#8a36dc" stroke-width="0.7"/><circle cx="657.65" cy="106.64" r="3.4" fill="#fbeeff" opacity="0.65"/><circle cx="657.65" cy="106.64" r="2.7" fill="#a44af8" stroke="#8a36dc" stroke-width="0.7"/><circle cx="423.41" cy="126.21" r="3.4" fill="#fbeeff" opacity="0.65"/><circle cx="423.41" cy="126.21" r="2.7" fill="#a44af8" stroke="#8a36dc" stroke-width="0.7"/><circle cx="442.93" cy="126.21" r="3.4" fill="#fbeeff" opacity="0.65"/><circle cx="442.93" cy="126.21" r="2.7" fill="#a44af8" stroke="#8a36dc" stroke-width="0.7"/><circle cx="462.45" cy="126.21" r="3.4" fill="#fbeeff" opacity="0.65"/><circle cx="462.45" cy="126.21" r="2.7" fill="#a44af8" stroke="#8a36dc" stroke-width="0.7"/><circle cx="481.97" cy="126.21" r="3.4" fill="#fbeeff" opacity="0.65"/><circle cx="481.97" cy="126.21" r="2.7" fill="#a44af8" stroke="#8a36dc" stroke-width="0.7"/><circle cx="501.49" cy="126.21" r="2.7" fill="#a44af8" stroke="#8a36dc" stroke-width="0.7" opacity="0.6"/><circle cx="521.01" cy="126.21" r="2.7" fill="#a44af8" stroke="#8a36dc" stroke-width="0.7" opacity="0.6"/><circle cx="528.83" cy="126.21" r="3.4" fill="#fbeeff" opacity="0.65"/><circle cx="528.83" cy="126.21" r="2.7" fill="#28f228" stroke="#16c416" stroke-width="0.7"/><circle cx="540.53" cy="126.21" r="3.4" fill="#fbeeff" opacity="0.65"/><circle cx="540.53" cy="126.21" r="2.7" fill="#a44af8" stroke="#8a36dc" stroke-width="0.7"/><circle cx="560.05" cy="126.21" r="3.4" fill="#fbeeff" opacity="0.65"/><circle cx="560.05" cy="126.21" r="2.7" fill="#a44af8" stroke="#8a36dc" stroke-width="0.7"/><circle cx="579.57" cy="126.21" r="3.4" fill="#fbeeff" opacity="0.65"/><circle cx="579.57" cy="126.21" r="2.7" fill="#a44af8" stroke="#8a36dc" stroke-width="0.7"/><circle cx="599.09" cy="126.21" r="3.4" fill="#fbeeff" opacity="0.65"/><circle cx="599.09" cy="126.21" r="2.7" fill="#a44af8" stroke="#8a36dc" stroke-width="0.7"/><circle cx="618.61" cy="126.21" r="3.4" fill="#fbeeff" opacity="0.65"/><circle cx="618.61" cy="126.21" r="2.7" fill="#a44af8" stroke="#8a36dc" stroke-width="0.7"/><circle cx="638.13" cy="126.21" r="3.4" fill="#fbeeff" opacity="0.65"/><circle cx="638.13" cy="126.21" r="2.7" fill="#a44af8" stroke="#8a36dc" stroke-width="0.7"/><circle cx="657.65" cy="126.21" r="3.4" fill="#fbeeff" opacity="0.65"/><circle cx="657.65" cy="126.21" r="2.7" fill="#a44af8" stroke="#8a36dc" stroke-width="0.7"/><circle cx="345.33" cy="145.77" r="3.4" fill="#fbeeff" opacity="0.65"/><circle cx="345.33" cy="145.77" r="2.7" fill="#a44af8" stroke="#8a36dc" stroke-width="0.7"/><circle cx="384.37" cy="145.77" r="3.4" fill="#fbeeff" opacity="0.65"/><circle cx="384.37" cy="145.77" r="2.7" fill="#a44af8" stroke="#8a36dc" stroke-width="0.7"/><circle cx="403.89" cy="145.77" r="3.4" fill="#fbeeff" opacity="0.65"/><circle cx="403.89" cy="145.77" r="2.7" fill="#a44af8" stroke="#8a36dc" stroke-width="0.7"/><circle cx="423.41" cy="145.77" r="3.4" fill="#fbeeff" opacity="0.65"/><circle cx="423.41" cy="145.77" r="2.7" fill="#a44af8" stroke="#8a36dc" stroke-width="0.7"/><circle cx="442.93" cy="145.77" r="3.4" fill="#fbeeff" opacity="0.65"/><circle cx="442.93" cy="145.77" r="2.7" fill="#a44af8" stroke="#8a36dc" stroke-width="0.7"/><circle cx="450.75" cy="134.07" r="3.4" fill="#fbeeff" opacity="0.65"/><circle cx="450.75" cy="134.07" r="2.7" fill="#121212" stroke="#000000" stroke-width="0.7"/><circle cx="462.45" cy="134.07" r="3.4" fill="#fbeeff" opacity="0.65"/><circle cx="462.45" cy="134.07" r="2.7" fill="#ffa11c" stroke="#e08a0c" stroke-width="0.7"/><circle cx="462.45" cy="145.77" r="3.4" fill="#fbeeff" opacity="0.65"/><circle cx="462.45" cy="145.77" r="2.7" fill="#a44af8" stroke="#8a36dc" stroke-width="0.7"/><circle cx="481.97" cy="145.77" r="2.7" fill="#a44af8" stroke="#8a36dc" stroke-width="0.7" opacity="0.6"/><circle cx="489.79" cy="134.07" r="3.4" fill="#fbeeff" opacity="0.65"/><circle cx="489.79" cy="134.07" r="2.7" fill="#121212" stroke="#000000" stroke-width="0.7"/><circle cx="489.79" cy="145.77" r="3.4" fill="#fbeeff" opacity="0.65"/><circle cx="489.79" cy="145.77" r="2.7" fill="#28f228" stroke="#16c416" stroke-width="0.7"/><circle cx="501.49" cy="145.77" r="3.4" fill="#fbeeff" opacity="0.65"/><circle cx="501.49" cy="145.77" r="2.7" fill="#a44af8" stroke="#8a36dc" stroke-width="0.7"/><circle cx="509.31" cy="134.07" r="2.7" fill="#121212" stroke="#000000" stroke-width="0.7"/><circle cx="509.31" cy="145.77" r="2.7" fill="#28f228" stroke="#16c416" stroke-width="0.7"/><circle cx="521.01" cy="145.77" r="2.7" fill="#a44af8" stroke="#8a36dc" stroke-width="0.7" opacity="0.6"/><circle cx="528.83" cy="134.07" r="3.4" fill="#fbeeff" opacity="0.65"/><circle cx="528.83" cy="134.07" r="2.7" fill="#121212" stroke="#000000" stroke-width="0.7"/><circle cx="528.83" cy="145.77" r="3.4" fill="#fbeeff" opacity="0.65"/><circle cx="528.83" cy="145.77" r="2.7" fill="#28f228" stroke="#16c416" stroke-width="0.7"/><circle cx="540.53" cy="145.77" r="3.4" fill="#fbeeff" opacity="0.65"/><circle cx="540.53" cy="145.77" r="2.7" fill="#a44af8" stroke="#8a36dc" stroke-width="0.7"/><circle cx="560.05" cy="145.77" r="3.4" fill="#fbeeff" opacity="0.65"/><circle cx="560.05" cy="145.77" r="2.7" fill="#a44af8" stroke="#8a36dc" stroke-width="0.7"/><circle cx="567.87" cy="134.07" r="3.4" fill="#fbeeff" opacity="0.65"/><circle cx="567.87" cy="134.07" r="2.7" fill="#121212" stroke="#000000" stroke-width="0.7"/><circle cx="579.57" cy="145.77" r="3.4" fill="#fbeeff" opacity="0.65"/><circle cx="579.57" cy="145.77" r="2.7" fill="#a44af8" stroke="#8a36dc" stroke-width="0.7"/><circle cx="599.09" cy="145.77" r="3.4" fill="#fbeeff" opacity="0.65"/><circle cx="599.09" cy="145.77" r="2.7" fill="#a44af8" stroke="#8a36dc" stroke-width="0.7"/><circle cx="606.91" cy="134.07" r="3.4" fill="#fbeeff" opacity="0.65"/><circle cx="606.91" cy="134.07" r="2.7" fill="#121212" stroke="#000000" stroke-width="0.7"/><circle cx="618.61" cy="134.07" r="3.4" fill="#fbeeff" opacity="0.65"/><circle cx="618.61" cy="134.07" r="2.7" fill="#ffa11c" stroke="#e08a0c" stroke-width="0.7"/><circle cx="618.61" cy="145.77" r="3.4" fill="#fbeeff" opacity="0.65"/><circle cx="618.61" cy="145.77" r="2.7" fill="#a44af8" stroke="#8a36dc" stroke-width="0.7"/><circle cx="638.13" cy="145.77" r="3.4" fill="#fbeeff" opacity="0.65"/><circle cx="638.13" cy="145.77" r="2.7" fill="#a44af8" stroke="#8a36dc" stroke-width="0.7"/><circle cx="657.65" cy="145.77" r="3.4" fill="#fbeeff" opacity="0.65"/><circle cx="657.65" cy="145.77" r="2.7" fill="#a44af8" stroke="#8a36dc" stroke-width="0.7"/><circle cx="364.85" cy="165.33" r="3.4" fill="#fbeeff" opacity="0.65"/><circle cx="364.85" cy="165.33" r="2.7" fill="#a44af8" stroke="#8a36dc" stroke-width="0.7"/><circle cx="384.37" cy="165.33" r="3.4" fill="#fbeeff" opacity="0.65"/><circle cx="384.37" cy="165.33" r="2.7" fill="#a44af8" stroke="#8a36dc" stroke-width="0.7"/><circle cx="403.89" cy="165.33" r="3.4" fill="#fbeeff" opacity="0.65"/><circle cx="403.89" cy="165.33" r="2.7" fill="#a44af8" stroke="#8a36dc" stroke-width="0.7"/><circle cx="423.41" cy="165.33" r="3.4" fill="#fbeeff" opacity="0.65"/><circle cx="423.41" cy="165.33" r="2.7" fill="#a44af8" stroke="#8a36dc" stroke-width="0.7"/><circle cx="442.93" cy="165.33" r="3.4" fill="#fbeeff" opacity="0.65"/><circle cx="442.93" cy="165.33" r="2.7" fill="#a44af8" stroke="#8a36dc" stroke-width="0.7"/><circle cx="450.75" cy="165.33" r="3.4" fill="#fbeeff" opacity="0.65"/><circle cx="450.75" cy="165.33" r="2.7" fill="#28f228" stroke="#16c416" stroke-width="0.7"/><circle cx="462.45" cy="165.33" r="3.4" fill="#fbeeff" opacity="0.65"/><circle cx="462.45" cy="165.33" r="2.7" fill="#a44af8" stroke="#8a36dc" stroke-width="0.7"/><circle cx="470.27" cy="165.33" r="2.7" fill="#28f228" stroke="#16c416" stroke-width="0.7"/><circle cx="481.97" cy="165.33" r="2.7" fill="#a44af8" stroke="#8a36dc" stroke-width="0.7" opacity="0.6"/><circle cx="489.79" cy="165.33" r="2.7" fill="#28f228" stroke="#16c416" stroke-width="0.7"/><circle cx="501.49" cy="165.33" r="2.7" fill="#a44af8" stroke="#8a36dc" stroke-width="0.7" opacity="0.6"/><circle cx="521.01" cy="165.33" r="3.4" fill="#fbeeff" opacity="0.65"/><circle cx="521.01" cy="165.33" r="2.7" fill="#a44af8" stroke="#8a36dc" stroke-width="0.7"/><circle cx="540.53" cy="165.33" r="3.4" fill="#fbeeff" opacity="0.65"/><circle cx="540.53" cy="165.33" r="2.7" fill="#a44af8" stroke="#8a36dc" stroke-width="0.7"/><circle cx="560.05" cy="165.33" r="3.4" fill="#fbeeff" opacity="0.65"/><circle cx="560.05" cy="165.33" r="2.7" fill="#a44af8" stroke="#8a36dc" stroke-width="0.7"/><circle cx="579.57" cy="165.33" r="3.4" fill="#fbeeff" opacity="0.65"/><circle cx="579.57" cy="165.33" r="2.7" fill="#a44af8" stroke="#8a36dc" stroke-width="0.7"/><circle cx="599.09" cy="165.33" r="3.4" fill="#fbeeff" opacity="0.65"/><circle cx="599.09" cy="165.33" r="2.7" fill="#a44af8" stroke="#8a36dc" stroke-width="0.7"/><circle cx="618.61" cy="165.33" r="3.4" fill="#fbeeff" opacity="0.65"/><circle cx="618.61" cy="165.33" r="2.7" fill="#a44af8" stroke="#8a36dc" stroke-width="0.7"/><circle cx="638.13" cy="165.33" r="3.4" fill="#fbeeff" opacity="0.65"/><circle cx="638.13" cy="165.33" r="2.7" fill="#a44af8" stroke="#8a36dc" stroke-width="0.7"/><circle cx="657.65" cy="165.33" r="3.4" fill="#fbeeff" opacity="0.65"/><circle cx="657.65" cy="165.33" r="2.7" fill="#a44af8" stroke="#8a36dc" stroke-width="0.7"/><circle cx="306.29" cy="184.90" r="3.4" fill="#fbeeff" opacity="0.65"/><circle cx="306.29" cy="184.90" r="2.7" fill="#a44af8" stroke="#8a36dc" stroke-width="0.7"/><circle cx="325.81" cy="184.90" r="3.4" fill="#fbeeff" opacity="0.65"/><circle cx="325.81" cy="184.90" r="2.7" fill="#a44af8" stroke="#8a36dc" stroke-width="0.7"/><circle cx="345.33" cy="184.90" r="3.4" fill="#fbeeff" opacity="0.65"/><circle cx="345.33" cy="184.90" r="2.7" fill="#a44af8" stroke="#8a36dc" stroke-width="0.7"/><circle cx="364.85" cy="184.90" r="3.4" fill="#fbeeff" opacity="0.65"/><circle cx="364.85" cy="184.90" r="2.7" fill="#a44af8" stroke="#8a36dc" stroke-width="0.7"/><circle cx="384.37" cy="184.90" r="3.4" fill="#fbeeff" opacity="0.65"/><circle cx="384.37" cy="184.90" r="2.7" fill="#a44af8" stroke="#8a36dc" stroke-width="0.7"/><circle cx="403.89" cy="184.90" r="3.4" fill="#fbeeff" opacity="0.65"/><circle cx="403.89" cy="184.90" r="2.7" fill="#a44af8" stroke="#8a36dc" stroke-width="0.7"/><circle cx="411.71" cy="173.20" r="2.7" fill="#121212" stroke="#000000" stroke-width="0.7"/><circle cx="411.71" cy="184.90" r="2.7" fill="#28f228" stroke="#16c416" stroke-width="0.7"/><circle cx="423.41" cy="184.90" r="2.7" fill="#a44af8" stroke="#8a36dc" stroke-width="0.7" opacity="0.6"/><circle cx="431.23" cy="184.90" r="2.7" fill="#28f228" stroke="#16c416" stroke-width="0.7"/><circle cx="442.93" cy="184.90" r="2.7" fill="#a44af8" stroke="#8a36dc" stroke-width="0.7" opacity="0.6"/><circle cx="450.75" cy="173.20" r="2.7" fill="#121212" stroke="#000000" stroke-width="0.7"/><circle cx="450.75" cy="184.90" r="2.7" fill="#28f228" stroke="#16c416" stroke-width="0.7"/><circle cx="462.45" cy="184.90" r="2.7" fill="#a44af8" stroke="#8a36dc" stroke-width="0.7" opacity="0.6"/><circle cx="481.97" cy="184.90" r="2.7" fill="#a44af8" stroke="#8a36dc" stroke-width="0.7" opacity="0.6"/><circle cx="489.79" cy="173.20" r="3.4" fill="#fbeeff" opacity="0.65"/><circle cx="489.79" cy="173.20" r="2.7" fill="#121212" stroke="#000000" stroke-width="0.7"/><circle cx="501.49" cy="184.90" r="3.4" fill="#fbeeff" opacity="0.65"/><circle cx="501.49" cy="184.90" r="2.7" fill="#a44af8" stroke="#8a36dc" stroke-width="0.7"/><circle cx="521.01" cy="184.90" r="3.4" fill="#fbeeff" opacity="0.65"/><circle cx="521.01" cy="184.90" r="2.7" fill="#a44af8" stroke="#8a36dc" stroke-width="0.7"/><circle cx="540.53" cy="184.90" r="3.4" fill="#fbeeff" opacity="0.65"/><circle cx="540.53" cy="184.90" r="2.7" fill="#a44af8" stroke="#8a36dc" stroke-width="0.7"/><circle cx="560.05" cy="184.90" r="3.4" fill="#fbeeff" opacity="0.65"/><circle cx="560.05" cy="184.90" r="2.7" fill="#a44af8" stroke="#8a36dc" stroke-width="0.7"/><circle cx="579.57" cy="184.90" r="3.4" fill="#fbeeff" opacity="0.65"/><circle cx="579.57" cy="184.90" r="2.7" fill="#a44af8" stroke="#8a36dc" stroke-width="0.7"/><circle cx="599.09" cy="184.90" r="3.4" fill="#fbeeff" opacity="0.65"/><circle cx="599.09" cy="184.90" r="2.7" fill="#a44af8" stroke="#8a36dc" stroke-width="0.7"/><circle cx="618.61" cy="184.90" r="3.4" fill="#fbeeff" opacity="0.65"/><circle cx="618.61" cy="184.90" r="2.7" fill="#a44af8" stroke="#8a36dc" stroke-width="0.7"/><circle cx="638.13" cy="184.90" r="3.4" fill="#fbeeff" opacity="0.65"/><circle cx="638.13" cy="184.90" r="2.7" fill="#a44af8" stroke="#8a36dc" stroke-width="0.7"/><circle cx="657.65" cy="184.90" r="3.4" fill="#fbeeff" opacity="0.65"/><circle cx="657.65" cy="184.90" r="2.7" fill="#a44af8" stroke="#8a36dc" stroke-width="0.7"/><circle cx="306.29" cy="204.46" r="3.4" fill="#fbeeff" opacity="0.65"/><circle cx="306.29" cy="204.46" r="2.7" fill="#a44af8" stroke="#8a36dc" stroke-width="0.7"/><circle cx="325.81" cy="204.46" r="3.4" fill="#fbeeff" opacity="0.65"/><circle cx="325.81" cy="204.46" r="2.7" fill="#a44af8" stroke="#8a36dc" stroke-width="0.7"/><circle cx="364.85" cy="204.46" r="3.4" fill="#fbeeff" opacity="0.65"/><circle cx="364.85" cy="204.46" r="2.7" fill="#a44af8" stroke="#8a36dc" stroke-width="0.7"/><circle cx="384.37" cy="204.46" r="3.4" fill="#fbeeff" opacity="0.65"/><circle cx="384.37" cy="204.46" r="2.7" fill="#a44af8" stroke="#8a36dc" stroke-width="0.7"/><circle cx="403.89" cy="204.46" r="2.7" fill="#a44af8" stroke="#8a36dc" stroke-width="0.7" opacity="0.6"/><circle cx="411.71" cy="192.76" r="3.4" fill="#fbeeff" opacity="0.65"/><circle cx="411.71" cy="192.76" r="2.7" fill="#121212" stroke="#000000" stroke-width="0.7"/><circle cx="411.71" cy="204.46" r="3.4" fill="#fbeeff" opacity="0.65"/><circle cx="411.71" cy="204.46" r="2.7" fill="#28f228" stroke="#16c416" stroke-width="0.7"/><circle cx="423.41" cy="204.46" r="3.4" fill="#fbeeff" opacity="0.65"/><circle cx="423.41" cy="204.46" r="2.7" fill="#a44af8" stroke="#8a36dc" stroke-width="0.7"/><circle cx="442.93" cy="204.46" r="2.7" fill="#a44af8" stroke="#8a36dc" stroke-width="0.7" opacity="0.6"/><circle cx="450.75" cy="192.76" r="2.7" fill="#121212" stroke="#000000" stroke-width="0.7"/><circle cx="462.45" cy="204.46" r="2.7" fill="#a44af8" stroke="#8a36dc" stroke-width="0.7" opacity="0.6"/><circle cx="481.97" cy="204.46" r="3.4" fill="#fbeeff" opacity="0.65"/><circle cx="481.97" cy="204.46" r="2.7" fill="#a44af8" stroke="#8a36dc" stroke-width="0.7"/><circle cx="501.49" cy="204.46" r="3.4" fill="#fbeeff" opacity="0.65"/><circle cx="501.49" cy="204.46" r="2.7" fill="#a44af8" stroke="#8a36dc" stroke-width="0.7"/><circle cx="521.01" cy="204.46" r="3.4" fill="#fbeeff" opacity="0.65"/><circle cx="521.01" cy="204.46" r="2.7" fill="#a44af8" stroke="#8a36dc" stroke-width="0.7"/><circle cx="540.53" cy="204.46" r="3.4" fill="#fbeeff" opacity="0.65"/><circle cx="540.53" cy="204.46" r="2.7" fill="#a44af8" stroke="#8a36dc" stroke-width="0.7"/><circle cx="579.57" cy="204.46" r="3.4" fill="#fbeeff" opacity="0.65"/><circle cx="579.57" cy="204.46" r="2.7" fill="#a44af8" stroke="#8a36dc" stroke-width="0.7"/><circle cx="599.09" cy="204.46" r="3.4" fill="#fbeeff" opacity="0.65"/><circle cx="599.09" cy="204.46" r="2.7" fill="#a44af8" stroke="#8a36dc" stroke-width="0.7"/><circle cx="618.61" cy="204.46" r="3.4" fill="#fbeeff" opacity="0.65"/><circle cx="618.61" cy="204.46" r="2.7" fill="#a44af8" stroke="#8a36dc" stroke-width="0.7"/><circle cx="267.25" cy="224.03" r="3.4" fill="#fbeeff" opacity="0.65"/><circle cx="267.25" cy="224.03" r="2.7" fill="#a44af8" stroke="#8a36dc" stroke-width="0.7"/><circle cx="286.77" cy="224.03" r="3.4" fill="#fbeeff" opacity="0.65"/><circle cx="286.77" cy="224.03" r="2.7" fill="#a44af8" stroke="#8a36dc" stroke-width="0.7"/><circle cx="306.29" cy="224.03" r="3.4" fill="#fbeeff" opacity="0.65"/><circle cx="306.29" cy="224.03" r="2.7" fill="#a44af8" stroke="#8a36dc" stroke-width="0.7"/><circle cx="325.81" cy="224.03" r="3.4" fill="#fbeeff" opacity="0.65"/><circle cx="325.81" cy="224.03" r="2.7" fill="#a44af8" stroke="#8a36dc" stroke-width="0.7"/><circle cx="345.33" cy="224.03" r="3.4" fill="#fbeeff" opacity="0.65"/><circle cx="345.33" cy="224.03" r="2.7" fill="#a44af8" stroke="#8a36dc" stroke-width="0.7"/><circle cx="364.85" cy="224.03" r="3.4" fill="#fbeeff" opacity="0.65"/><circle cx="364.85" cy="224.03" r="2.7" fill="#a44af8" stroke="#8a36dc" stroke-width="0.7"/><circle cx="372.67" cy="212.33" r="3.4" fill="#fbeeff" opacity="0.65"/><circle cx="372.67" cy="212.33" r="2.7" fill="#121212" stroke="#000000" stroke-width="0.7"/><circle cx="372.67" cy="224.03" r="3.4" fill="#fbeeff" opacity="0.65"/><circle cx="372.67" cy="224.03" r="2.7" fill="#28f228" stroke="#16c416" stroke-width="0.7"/><circle cx="384.37" cy="224.03" r="3.4" fill="#fbeeff" opacity="0.65"/><circle cx="384.37" cy="224.03" r="2.7" fill="#a44af8" stroke="#8a36dc" stroke-width="0.7"/><circle cx="392.19" cy="212.33" r="2.7" fill="#121212" stroke="#000000" stroke-width="0.7"/><circle cx="392.19" cy="224.03" r="2.7" fill="#28f228" stroke="#16c416" stroke-width="0.7"/><circle cx="403.89" cy="224.03" r="2.7" fill="#a44af8" stroke="#8a36dc" stroke-width="0.7" opacity="0.6"/><circle cx="411.71" cy="212.33" r="3.4" fill="#fbeeff" opacity="0.65"/><circle cx="411.71" cy="212.33" r="2.7" fill="#121212" stroke="#000000" stroke-width="0.7"/><circle cx="411.71" cy="224.03" r="3.4" fill="#fbeeff" opacity="0.65"/><circle cx="411.71" cy="224.03" r="2.7" fill="#28f228" stroke="#16c416" stroke-width="0.7"/><circle cx="423.41" cy="224.03" r="3.4" fill="#fbeeff" opacity="0.65"/><circle cx="423.41" cy="224.03" r="2.7" fill="#a44af8" stroke="#8a36dc" stroke-width="0.7"/><circle cx="442.93" cy="224.03" r="2.7" fill="#a44af8" stroke="#8a36dc" stroke-width="0.7" opacity="0.6"/><circle cx="450.75" cy="212.33" r="2.7" fill="#121212" stroke="#000000" stroke-width="0.7"/><circle cx="462.45" cy="224.03" r="2.7" fill="#a44af8" stroke="#8a36dc" stroke-width="0.7" opacity="0.6"/><circle cx="481.97" cy="224.03" r="3.4" fill="#fbeeff" opacity="0.65"/><circle cx="481.97" cy="224.03" r="2.7" fill="#a44af8" stroke="#8a36dc" stroke-width="0.7"/><circle cx="501.49" cy="224.03" r="3.4" fill="#fbeeff" opacity="0.65"/><circle cx="501.49" cy="224.03" r="2.7" fill="#a44af8" stroke="#8a36dc" stroke-width="0.7"/><circle cx="521.01" cy="224.03" r="3.4" fill="#fbeeff" opacity="0.65"/><circle cx="521.01" cy="224.03" r="2.7" fill="#a44af8" stroke="#8a36dc" stroke-width="0.7"/><circle cx="540.53" cy="224.03" r="3.4" fill="#fbeeff" opacity="0.65"/><circle cx="540.53" cy="224.03" r="2.7" fill="#a44af8" stroke="#8a36dc" stroke-width="0.7"/><circle cx="560.05" cy="224.03" r="3.4" fill="#fbeeff" opacity="0.65"/><circle cx="560.05" cy="224.03" r="2.7" fill="#a44af8" stroke="#8a36dc" stroke-width="0.7"/><circle cx="579.57" cy="224.03" r="3.4" fill="#fbeeff" opacity="0.65"/><circle cx="579.57" cy="224.03" r="2.7" fill="#a44af8" stroke="#8a36dc" stroke-width="0.7"/><circle cx="618.61" cy="224.03" r="3.4" fill="#fbeeff" opacity="0.65"/><circle cx="618.61" cy="224.03" r="2.7" fill="#a44af8" stroke="#8a36dc" stroke-width="0.7"/><circle cx="657.65" cy="224.03" r="3.4" fill="#fbeeff" opacity="0.65"/><circle cx="657.65" cy="224.03" r="2.7" fill="#a44af8" stroke="#8a36dc" stroke-width="0.7"/><circle cx="267.25" cy="243.59" r="3.4" fill="#fbeeff" opacity="0.65"/><circle cx="267.25" cy="243.59" r="2.7" fill="#a44af8" stroke="#8a36dc" stroke-width="0.7"/><circle cx="286.77" cy="243.59" r="3.4" fill="#fbeeff" opacity="0.65"/><circle cx="286.77" cy="243.59" r="2.7" fill="#a44af8" stroke="#8a36dc" stroke-width="0.7"/><circle cx="306.29" cy="243.59" r="3.4" fill="#fbeeff" opacity="0.65"/><circle cx="306.29" cy="243.59" r="2.7" fill="#a44af8" stroke="#8a36dc" stroke-width="0.7"/><circle cx="325.81" cy="243.59" r="3.4" fill="#fbeeff" opacity="0.65"/><circle cx="325.81" cy="243.59" r="2.7" fill="#a44af8" stroke="#8a36dc" stroke-width="0.7"/><circle cx="345.33" cy="243.59" r="3.4" fill="#fbeeff" opacity="0.65"/><circle cx="345.33" cy="243.59" r="2.7" fill="#a44af8" stroke="#8a36dc" stroke-width="0.7"/><circle cx="364.85" cy="243.59" r="2.7" fill="#a44af8" stroke="#8a36dc" stroke-width="0.7" opacity="0.6"/><circle cx="384.37" cy="231.89" r="3.4" fill="#fbeeff" opacity="0.65"/><circle cx="384.37" cy="231.89" r="2.7" fill="#ffa11c" stroke="#e08a0c" stroke-width="0.7"/><circle cx="372.67" cy="243.59" r="3.4" fill="#fbeeff" opacity="0.65"/><circle cx="372.67" cy="243.59" r="2.7" fill="#28f228" stroke="#16c416" stroke-width="0.7"/><circle cx="384.37" cy="243.59" r="3.4" fill="#fbeeff" opacity="0.65"/><circle cx="384.37" cy="243.59" r="2.7" fill="#a44af8" stroke="#8a36dc" stroke-width="0.7"/><circle cx="403.89" cy="243.59" r="2.7" fill="#a44af8" stroke="#8a36dc" stroke-width="0.7" opacity="0.6"/><circle cx="423.41" cy="243.59" r="3.4" fill="#fbeeff" opacity="0.65"/><circle cx="423.41" cy="243.59" r="2.7" fill="#a44af8" stroke="#8a36dc" stroke-width="0.7"/><circle cx="442.93" cy="243.59" r="3.4" fill="#fbeeff" opacity="0.65"/><circle cx="442.93" cy="243.59" r="2.7" fill="#a44af8" stroke="#8a36dc" stroke-width="0.7"/><circle cx="462.45" cy="243.59" r="3.4" fill="#fbeeff" opacity="0.65"/><circle cx="462.45" cy="243.59" r="2.7" fill="#a44af8" stroke="#8a36dc" stroke-width="0.7"/><circle cx="481.97" cy="243.59" r="3.4" fill="#fbeeff" opacity="0.65"/><circle cx="481.97" cy="243.59" r="2.7" fill="#a44af8" stroke="#8a36dc" stroke-width="0.7"/><circle cx="501.49" cy="243.59" r="3.4" fill="#fbeeff" opacity="0.65"/><circle cx="501.49" cy="243.59" r="2.7" fill="#a44af8" stroke="#8a36dc" stroke-width="0.7"/><circle cx="540.53" cy="243.59" r="3.4" fill="#fbeeff" opacity="0.65"/><circle cx="540.53" cy="243.59" r="2.7" fill="#a44af8" stroke="#8a36dc" stroke-width="0.7"/><circle cx="560.05" cy="243.59" r="3.4" fill="#fbeeff" opacity="0.65"/><circle cx="560.05" cy="243.59" r="2.7" fill="#a44af8" stroke="#8a36dc" stroke-width="0.7"/><circle cx="579.57" cy="243.59" r="3.4" fill="#fbeeff" opacity="0.65"/><circle cx="579.57" cy="243.59" r="2.7" fill="#a44af8" stroke="#8a36dc" stroke-width="0.7"/><circle cx="618.61" cy="243.59" r="3.4" fill="#fbeeff" opacity="0.65"/><circle cx="618.61" cy="243.59" r="2.7" fill="#a44af8" stroke="#8a36dc" stroke-width="0.7"/><circle cx="228.21" cy="263.15" r="3.4" fill="#fbeeff" opacity="0.65"/><circle cx="228.21" cy="263.15" r="2.7" fill="#a44af8" stroke="#8a36dc" stroke-width="0.7"/><circle cx="247.73" cy="263.15" r="3.4" fill="#fbeeff" opacity="0.65"/><circle cx="247.73" cy="263.15" r="2.7" fill="#a44af8" stroke="#8a36dc" stroke-width="0.7"/><circle cx="267.25" cy="263.15" r="3.4" fill="#fbeeff" opacity="0.65"/><circle cx="267.25" cy="263.15" r="2.7" fill="#a44af8" stroke="#8a36dc" stroke-width="0.7"/><circle cx="286.77" cy="263.15" r="3.4" fill="#fbeeff" opacity="0.65"/><circle cx="286.77" cy="263.15" r="2.7" fill="#a44af8" stroke="#8a36dc" stroke-width="0.7"/><circle cx="306.29" cy="263.15" r="3.4" fill="#fbeeff" opacity="0.65"/><circle cx="306.29" cy="263.15" r="2.7" fill="#a44af8" stroke="#8a36dc" stroke-width="0.7"/><circle cx="325.81" cy="263.15" r="3.4" fill="#fbeeff" opacity="0.65"/><circle cx="325.81" cy="263.15" r="2.7" fill="#a44af8" stroke="#8a36dc" stroke-width="0.7"/><circle cx="333.63" cy="251.45" r="3.4" fill="#fbeeff" opacity="0.65"/><circle cx="333.63" cy="251.45" r="2.7" fill="#121212" stroke="#000000" stroke-width="0.7"/><circle cx="345.33" cy="251.45" r="3.4" fill="#fbeeff" opacity="0.65"/><circle cx="345.33" cy="251.45" r="2.7" fill="#ffa11c" stroke="#e08a0c" stroke-width="0.7"/><circle cx="333.63" cy="263.15" r="3.4" fill="#fbeeff" opacity="0.65"/><circle cx="333.63" cy="263.15" r="2.7" fill="#28f228" stroke="#16c416" stroke-width="0.7"/><circle cx="345.33" cy="263.15" r="3.4" fill="#fbeeff" opacity="0.65"/><circle cx="345.33" cy="263.15" r="2.7" fill="#a44af8" stroke="#8a36dc" stroke-width="0.7"/><circle cx="353.15" cy="251.45" r="3.4" fill="#fbeeff" opacity="0.65"/><circle cx="353.15" cy="251.45" r="2.7" fill="#121212" stroke="#000000" stroke-width="0.7"/><circle cx="364.85" cy="251.45" r="3.4" fill="#fbeeff" opacity="0.65"/><circle cx="364.85" cy="251.45" r="2.7" fill="#ffa11c" stroke="#e08a0c" stroke-width="0.7"/><circle cx="353.15" cy="263.15" r="3.4" fill="#fbeeff" opacity="0.65"/><circle cx="353.15" cy="263.15" r="2.7" fill="#28f228" stroke="#16c416" stroke-width="0.7"/><circle cx="364.85" cy="263.15" r="3.4" fill="#fbeeff" opacity="0.65"/><circle cx="364.85" cy="263.15" r="2.7" fill="#a44af8" stroke="#8a36dc" stroke-width="0.7"/><circle cx="372.67" cy="251.45" r="3.4" fill="#fbeeff" opacity="0.65"/><circle cx="372.67" cy="251.45" r="2.7" fill="#121212" stroke="#000000" stroke-width="0.7"/><circle cx="384.37" cy="251.45" r="3.4" fill="#fbeeff" opacity="0.65"/><circle cx="384.37" cy="251.45" r="2.7" fill="#ffa11c" stroke="#e08a0c" stroke-width="0.7"/><circle cx="372.67" cy="263.15" r="3.4" fill="#fbeeff" opacity="0.65"/><circle cx="372.67" cy="263.15" r="2.7" fill="#28f228" stroke="#16c416" stroke-width="0.7"/><circle cx="384.37" cy="263.15" r="3.4" fill="#fbeeff" opacity="0.65"/><circle cx="384.37" cy="263.15" r="2.7" fill="#a44af8" stroke="#8a36dc" stroke-width="0.7"/><circle cx="403.89" cy="263.15" r="3.4" fill="#fbeeff" opacity="0.65"/><circle cx="403.89" cy="263.15" r="2.7" fill="#a44af8" stroke="#8a36dc" stroke-width="0.7"/><circle cx="423.41" cy="263.15" r="3.4" fill="#fbeeff" opacity="0.65"/><circle cx="423.41" cy="263.15" r="2.7" fill="#a44af8" stroke="#8a36dc" stroke-width="0.7"/><circle cx="442.93" cy="263.15" r="3.4" fill="#fbeeff" opacity="0.65"/><circle cx="442.93" cy="263.15" r="2.7" fill="#a44af8" stroke="#8a36dc" stroke-width="0.7"/><circle cx="462.45" cy="263.15" r="3.4" fill="#fbeeff" opacity="0.65"/><circle cx="462.45" cy="263.15" r="2.7" fill="#a44af8" stroke="#8a36dc" stroke-width="0.7"/><circle cx="501.49" cy="263.15" r="3.4" fill="#fbeeff" opacity="0.65"/><circle cx="501.49" cy="263.15" r="2.7" fill="#a44af8" stroke="#8a36dc" stroke-width="0.7"/><circle cx="521.01" cy="263.15" r="3.4" fill="#fbeeff" opacity="0.65"/><circle cx="521.01" cy="263.15" r="2.7" fill="#a44af8" stroke="#8a36dc" stroke-width="0.7"/><circle cx="540.53" cy="263.15" r="3.4" fill="#fbeeff" opacity="0.65"/><circle cx="540.53" cy="263.15" r="2.7" fill="#a44af8" stroke="#8a36dc" stroke-width="0.7"/><circle cx="579.57" cy="263.15" r="3.4" fill="#fbeeff" opacity="0.65"/><circle cx="579.57" cy="263.15" r="2.7" fill="#a44af8" stroke="#8a36dc" stroke-width="0.7"/><circle cx="618.61" cy="263.15" r="3.4" fill="#fbeeff" opacity="0.65"/><circle cx="618.61" cy="263.15" r="2.7" fill="#a44af8" stroke="#8a36dc" stroke-width="0.7"/><circle cx="228.21" cy="282.72" r="3.4" fill="#fbeeff" opacity="0.65"/><circle cx="228.21" cy="282.72" r="2.7" fill="#a44af8" stroke="#8a36dc" stroke-width="0.7"/><circle cx="247.73" cy="282.72" r="3.4" fill="#fbeeff" opacity="0.65"/><circle cx="247.73" cy="282.72" r="2.7" fill="#a44af8" stroke="#8a36dc" stroke-width="0.7"/><circle cx="267.25" cy="282.72" r="3.4" fill="#fbeeff" opacity="0.65"/><circle cx="267.25" cy="282.72" r="2.7" fill="#a44af8" stroke="#8a36dc" stroke-width="0.7"/><circle cx="286.77" cy="282.72" r="3.4" fill="#fbeeff" opacity="0.65"/><circle cx="286.77" cy="282.72" r="2.7" fill="#a44af8" stroke="#8a36dc" stroke-width="0.7"/><circle cx="306.29" cy="282.72" r="3.4" fill="#fbeeff" opacity="0.65"/><circle cx="306.29" cy="282.72" r="2.7" fill="#a44af8" stroke="#8a36dc" stroke-width="0.7"/><circle cx="325.81" cy="282.72" r="2.7" fill="#a44af8" stroke="#8a36dc" stroke-width="0.7" opacity="0.6"/><circle cx="333.63" cy="271.02" r="3.4" fill="#fbeeff" opacity="0.65"/><circle cx="333.63" cy="271.02" r="2.7" fill="#121212" stroke="#000000" stroke-width="0.7"/><circle cx="345.33" cy="271.02" r="3.4" fill="#fbeeff" opacity="0.65"/><circle cx="345.33" cy="271.02" r="2.7" fill="#ffa11c" stroke="#e08a0c" stroke-width="0.7"/><circle cx="333.63" cy="282.72" r="3.4" fill="#fbeeff" opacity="0.65"/><circle cx="333.63" cy="282.72" r="2.7" fill="#28f228" stroke="#16c416" stroke-width="0.7"/><circle cx="345.33" cy="282.72" r="3.4" fill="#fbeeff" opacity="0.65"/><circle cx="345.33" cy="282.72" r="2.7" fill="#a44af8" stroke="#8a36dc" stroke-width="0.7"/><circle cx="364.85" cy="282.72" r="2.7" fill="#a44af8" stroke="#8a36dc" stroke-width="0.7" opacity="0.6"/><circle cx="384.37" cy="282.72" r="3.4" fill="#fbeeff" opacity="0.65"/><circle cx="384.37" cy="282.72" r="2.7" fill="#a44af8" stroke="#8a36dc" stroke-width="0.7"/><circle cx="403.89" cy="282.72" r="3.4" fill="#fbeeff" opacity="0.65"/><circle cx="403.89" cy="282.72" r="2.7" fill="#a44af8" stroke="#8a36dc" stroke-width="0.7"/><circle cx="423.41" cy="282.72" r="3.4" fill="#fbeeff" opacity="0.65"/><circle cx="423.41" cy="282.72" r="2.7" fill="#a44af8" stroke="#8a36dc" stroke-width="0.7"/><circle cx="442.93" cy="282.72" r="3.4" fill="#fbeeff" opacity="0.65"/><circle cx="442.93" cy="282.72" r="2.7" fill="#a44af8" stroke="#8a36dc" stroke-width="0.7"/><circle cx="462.45" cy="282.72" r="3.4" fill="#fbeeff" opacity="0.65"/><circle cx="462.45" cy="282.72" r="2.7" fill="#a44af8" stroke="#8a36dc" stroke-width="0.7"/><circle cx="228.21" cy="302.28" r="3.4" fill="#fbeeff" opacity="0.65"/><circle cx="228.21" cy="302.28" r="2.7" fill="#a44af8" stroke="#8a36dc" stroke-width="0.7"/><circle cx="247.73" cy="302.28" r="3.4" fill="#fbeeff" opacity="0.65"/><circle cx="247.73" cy="302.28" r="2.7" fill="#a44af8" stroke="#8a36dc" stroke-width="0.7"/><circle cx="267.25" cy="302.28" r="3.4" fill="#fbeeff" opacity="0.65"/><circle cx="267.25" cy="302.28" r="2.7" fill="#a44af8" stroke="#8a36dc" stroke-width="0.7"/><circle cx="286.77" cy="302.28" r="3.4" fill="#fbeeff" opacity="0.65"/><circle cx="286.77" cy="302.28" r="2.7" fill="#a44af8" stroke="#8a36dc" stroke-width="0.7"/><circle cx="294.59" cy="290.58" r="3.4" fill="#fbeeff" opacity="0.65"/><circle cx="294.59" cy="290.58" r="2.7" fill="#121212" stroke="#000000" stroke-width="0.7"/><circle cx="306.29" cy="290.58" r="3.4" fill="#fbeeff" opacity="0.65"/><circle cx="306.29" cy="290.58" r="2.7" fill="#ffa11c" stroke="#e08a0c" stroke-width="0.7"/><circle cx="294.59" cy="302.28" r="3.4" fill="#fbeeff" opacity="0.65"/><circle cx="294.59" cy="302.28" r="2.7" fill="#28f228" stroke="#16c416" stroke-width="0.7"/><circle cx="306.29" cy="302.28" r="3.4" fill="#fbeeff" opacity="0.65"/><circle cx="306.29" cy="302.28" r="2.7" fill="#a44af8" stroke="#8a36dc" stroke-width="0.7"/><circle cx="314.11" cy="290.58" r="3.4" fill="#fbeeff" opacity="0.65"/><circle cx="314.11" cy="290.58" r="2.7" fill="#121212" stroke="#000000" stroke-width="0.7"/><circle cx="325.81" cy="290.58" r="3.4" fill="#fbeeff" opacity="0.65"/><circle cx="325.81" cy="290.58" r="2.7" fill="#ffa11c" stroke="#e08a0c" stroke-width="0.7"/><circle cx="314.11" cy="302.28" r="3.4" fill="#fbeeff" opacity="0.65"/><circle cx="314.11" cy="302.28" r="2.7" fill="#28f228" stroke="#16c416" stroke-width="0.7"/><circle cx="325.81" cy="302.28" r="3.4" fill="#fbeeff" opacity="0.65"/><circle cx="325.81" cy="302.28" r="2.7" fill="#a44af8" stroke="#8a36dc" stroke-width="0.7"/><circle cx="333.63" cy="290.58" r="3.4" fill="#fbeeff" opacity="0.65"/><circle cx="333.63" cy="290.58" r="2.7" fill="#121212" stroke="#000000" stroke-width="0.7"/><circle cx="345.33" cy="290.58" r="3.4" fill="#fbeeff" opacity="0.65"/><circle cx="345.33" cy="290.58" r="2.7" fill="#ffa11c" stroke="#e08a0c" stroke-width="0.7"/><circle cx="333.63" cy="302.28" r="3.4" fill="#fbeeff" opacity="0.65"/><circle cx="333.63" cy="302.28" r="2.7" fill="#28f228" stroke="#16c416" stroke-width="0.7"/><circle cx="345.33" cy="302.28" r="3.4" fill="#fbeeff" opacity="0.65"/><circle cx="345.33" cy="302.28" r="2.7" fill="#a44af8" stroke="#8a36dc" stroke-width="0.7"/><circle cx="364.85" cy="302.28" r="3.4" fill="#fbeeff" opacity="0.65"/><circle cx="364.85" cy="302.28" r="2.7" fill="#a44af8" stroke="#8a36dc" stroke-width="0.7"/><circle cx="384.37" cy="302.28" r="3.4" fill="#fbeeff" opacity="0.65"/><circle cx="384.37" cy="302.28" r="2.7" fill="#a44af8" stroke="#8a36dc" stroke-width="0.7"/><circle cx="403.89" cy="302.28" r="3.4" fill="#fbeeff" opacity="0.65"/><circle cx="403.89" cy="302.28" r="2.7" fill="#a44af8" stroke="#8a36dc" stroke-width="0.7"/><circle cx="423.41" cy="302.28" r="3.4" fill="#fbeeff" opacity="0.65"/><circle cx="423.41" cy="302.28" r="2.7" fill="#a44af8" stroke="#8a36dc" stroke-width="0.7"/><circle cx="442.93" cy="302.28" r="3.4" fill="#fbeeff" opacity="0.65"/><circle cx="442.93" cy="302.28" r="2.7" fill="#a44af8" stroke="#8a36dc" stroke-width="0.7"/><circle cx="462.45" cy="302.28" r="3.4" fill="#fbeeff" opacity="0.65"/><circle cx="462.45" cy="302.28" r="2.7" fill="#a44af8" stroke="#8a36dc" stroke-width="0.7"/><circle cx="481.97" cy="302.28" r="3.4" fill="#fbeeff" opacity="0.65"/><circle cx="481.97" cy="302.28" r="2.7" fill="#a44af8" stroke="#8a36dc" stroke-width="0.7"/><circle cx="501.49" cy="302.28" r="3.4" fill="#fbeeff" opacity="0.65"/><circle cx="501.49" cy="302.28" r="2.7" fill="#a44af8" stroke="#8a36dc" stroke-width="0.7"/><circle cx="521.01" cy="302.28" r="3.4" fill="#fbeeff" opacity="0.65"/><circle cx="521.01" cy="302.28" r="2.7" fill="#a44af8" stroke="#8a36dc" stroke-width="0.7"/><circle cx="540.53" cy="302.28" r="3.4" fill="#fbeeff" opacity="0.65"/><circle cx="540.53" cy="302.28" r="2.7" fill="#a44af8" stroke="#8a36dc" stroke-width="0.7"/><circle cx="560.05" cy="302.28" r="3.4" fill="#fbeeff" opacity="0.65"/><circle cx="560.05" cy="302.28" r="2.7" fill="#a44af8" stroke="#8a36dc" stroke-width="0.7"/><circle cx="247.73" cy="321.85" r="3.4" fill="#fbeeff" opacity="0.65"/><circle cx="247.73" cy="321.85" r="2.7" fill="#a44af8" stroke="#8a36dc" stroke-width="0.7"/><circle cx="267.25" cy="321.85" r="3.4" fill="#fbeeff" opacity="0.65"/><circle cx="267.25" cy="321.85" r="2.7" fill="#a44af8" stroke="#8a36dc" stroke-width="0.7"/><circle cx="286.77" cy="321.85" r="2.7" fill="#a44af8" stroke="#8a36dc" stroke-width="0.7" opacity="0.6"/><circle cx="294.59" cy="310.15" r="3.4" fill="#fbeeff" opacity="0.65"/><circle cx="294.59" cy="310.15" r="2.7" fill="#121212" stroke="#000000" stroke-width="0.7"/><circle cx="306.29" cy="310.15" r="3.4" fill="#fbeeff" opacity="0.65"/><circle cx="306.29" cy="310.15" r="2.7" fill="#ffa11c" stroke="#e08a0c" stroke-width="0.7"/><circle cx="294.59" cy="321.85" r="3.4" fill="#fbeeff" opacity="0.65"/><circle cx="294.59" cy="321.85" r="2.7" fill="#28f228" stroke="#16c416" stroke-width="0.7"/><circle cx="306.29" cy="321.85" r="3.4" fill="#fbeeff" opacity="0.65"/><circle cx="306.29" cy="321.85" r="2.7" fill="#a44af8" stroke="#8a36dc" stroke-width="0.7"/><circle cx="325.81" cy="321.85" r="2.7" fill="#a44af8" stroke="#8a36dc" stroke-width="0.7" opacity="0.6"/><circle cx="345.33" cy="321.85" r="3.4" fill="#fbeeff" opacity="0.65"/><circle cx="345.33" cy="321.85" r="2.7" fill="#a44af8" stroke="#8a36dc" stroke-width="0.7"/><circle cx="364.85" cy="321.85" r="3.4" fill="#fbeeff" opacity="0.65"/><circle cx="364.85" cy="321.85" r="2.7" fill="#a44af8" stroke="#8a36dc" stroke-width="0.7"/><circle cx="384.37" cy="321.85" r="3.4" fill="#fbeeff" opacity="0.65"/><circle cx="384.37" cy="321.85" r="2.7" fill="#a44af8" stroke="#8a36dc" stroke-width="0.7"/><circle cx="403.89" cy="321.85" r="3.4" fill="#fbeeff" opacity="0.65"/><circle cx="403.89" cy="321.85" r="2.7" fill="#a44af8" stroke="#8a36dc" stroke-width="0.7"/><circle cx="423.41" cy="321.85" r="3.4" fill="#fbeeff" opacity="0.65"/><circle cx="423.41" cy="321.85" r="2.7" fill="#a44af8" stroke="#8a36dc" stroke-width="0.7"/><circle cx="442.93" cy="321.85" r="3.4" fill="#fbeeff" opacity="0.65"/><circle cx="442.93" cy="321.85" r="2.7" fill="#a44af8" stroke="#8a36dc" stroke-width="0.7"/><circle cx="462.45" cy="321.85" r="3.4" fill="#fbeeff" opacity="0.65"/><circle cx="462.45" cy="321.85" r="2.7" fill="#a44af8" stroke="#8a36dc" stroke-width="0.7"/><circle cx="481.97" cy="321.85" r="3.4" fill="#fbeeff" opacity="0.65"/><circle cx="481.97" cy="321.85" r="2.7" fill="#a44af8" stroke="#8a36dc" stroke-width="0.7"/><circle cx="501.49" cy="321.85" r="3.4" fill="#fbeeff" opacity="0.65"/><circle cx="501.49" cy="321.85" r="2.7" fill="#a44af8" stroke="#8a36dc" stroke-width="0.7"/><circle cx="189.17" cy="341.41" r="3.4" fill="#fbeeff" opacity="0.65"/><circle cx="189.17" cy="341.41" r="2.7" fill="#a44af8" stroke="#8a36dc" stroke-width="0.7"/><circle cx="208.69" cy="341.41" r="3.4" fill="#fbeeff" opacity="0.65"/><circle cx="208.69" cy="341.41" r="2.7" fill="#a44af8" stroke="#8a36dc" stroke-width="0.7"/><circle cx="228.21" cy="341.41" r="3.4" fill="#fbeeff" opacity="0.65"/><circle cx="228.21" cy="341.41" r="2.7" fill="#a44af8" stroke="#8a36dc" stroke-width="0.7"/><circle cx="247.73" cy="341.41" r="3.4" fill="#fbeeff" opacity="0.65"/><circle cx="247.73" cy="341.41" r="2.7" fill="#a44af8" stroke="#8a36dc" stroke-width="0.7"/><circle cx="255.55" cy="341.41" r="2.7" fill="#28f228" stroke="#16c416" stroke-width="0.7"/><circle cx="267.25" cy="341.41" r="2.7" fill="#a44af8" stroke="#8a36dc" stroke-width="0.7" opacity="0.6"/><circle cx="275.07" cy="341.41" r="2.7" fill="#28f228" stroke="#16c416" stroke-width="0.7"/><circle cx="286.77" cy="341.41" r="2.7" fill="#a44af8" stroke="#8a36dc" stroke-width="0.7" opacity="0.6"/><circle cx="294.59" cy="341.41" r="2.7" fill="#28f228" stroke="#16c416" stroke-width="0.7"/><circle cx="306.29" cy="341.41" r="2.7" fill="#a44af8" stroke="#8a36dc" stroke-width="0.7" opacity="0.6"/><circle cx="325.81" cy="341.41" r="3.4" fill="#fbeeff" opacity="0.65"/><circle cx="325.81" cy="341.41" r="2.7" fill="#a44af8" stroke="#8a36dc" stroke-width="0.7"/><circle cx="345.33" cy="341.41" r="3.4" fill="#fbeeff" opacity="0.65"/><circle cx="345.33" cy="341.41" r="2.7" fill="#a44af8" stroke="#8a36dc" stroke-width="0.7"/><circle cx="364.85" cy="341.41" r="3.4" fill="#fbeeff" opacity="0.65"/><circle cx="364.85" cy="341.41" r="2.7" fill="#a44af8" stroke="#8a36dc" stroke-width="0.7"/><circle cx="384.37" cy="341.41" r="3.4" fill="#fbeeff" opacity="0.65"/><circle cx="384.37" cy="341.41" r="2.7" fill="#a44af8" stroke="#8a36dc" stroke-width="0.7"/><circle cx="403.89" cy="341.41" r="3.4" fill="#fbeeff" opacity="0.65"/><circle cx="403.89" cy="341.41" r="2.7" fill="#a44af8" stroke="#8a36dc" stroke-width="0.7"/><circle cx="423.41" cy="341.41" r="3.4" fill="#fbeeff" opacity="0.65"/><circle cx="423.41" cy="341.41" r="2.7" fill="#a44af8" stroke="#8a36dc" stroke-width="0.7"/><circle cx="442.93" cy="341.41" r="3.4" fill="#fbeeff" opacity="0.65"/><circle cx="442.93" cy="341.41" r="2.7" fill="#a44af8" stroke="#8a36dc" stroke-width="0.7"/><circle cx="462.45" cy="341.41" r="3.4" fill="#fbeeff" opacity="0.65"/><circle cx="462.45" cy="341.41" r="2.7" fill="#a44af8" stroke="#8a36dc" stroke-width="0.7"/><circle cx="501.49" cy="341.41" r="3.4" fill="#fbeeff" opacity="0.65"/><circle cx="501.49" cy="341.41" r="2.7" fill="#a44af8" stroke="#8a36dc" stroke-width="0.7"/><circle cx="189.17" cy="360.97" r="3.4" fill="#fbeeff" opacity="0.65"/><circle cx="189.17" cy="360.97" r="2.7" fill="#a44af8" stroke="#8a36dc" stroke-width="0.7"/><circle cx="208.69" cy="360.97" r="3.4" fill="#fbeeff" opacity="0.65"/><circle cx="208.69" cy="360.97" r="2.7" fill="#a44af8" stroke="#8a36dc" stroke-width="0.7"/><circle cx="228.21" cy="360.97" r="2.7" fill="#a44af8" stroke="#8a36dc" stroke-width="0.7" opacity="0.6"/><circle cx="247.73" cy="360.97" r="2.7" fill="#a44af8" stroke="#8a36dc" stroke-width="0.7" opacity="0.6"/><circle cx="267.25" cy="349.27" r="3.4" fill="#fbeeff" opacity="0.65"/><circle cx="267.25" cy="349.27" r="2.7" fill="#ffa11c" stroke="#e08a0c" stroke-width="0.7"/><circle cx="255.55" cy="360.97" r="3.4" fill="#fbeeff" opacity="0.65"/><circle cx="255.55" cy="360.97" r="2.7" fill="#28f228" stroke="#16c416" stroke-width="0.7"/><circle cx="267.25" cy="360.97" r="3.4" fill="#fbeeff" opacity="0.65"/><circle cx="267.25" cy="360.97" r="2.7" fill="#a44af8" stroke="#8a36dc" stroke-width="0.7"/><circle cx="286.77" cy="360.97" r="3.4" fill="#fbeeff" opacity="0.65"/><circle cx="286.77" cy="360.97" r="2.7" fill="#a44af8" stroke="#8a36dc" stroke-width="0.7"/><circle cx="306.29" cy="360.97" r="3.4" fill="#fbeeff" opacity="0.65"/><circle cx="306.29" cy="360.97" r="2.7" fill="#a44af8" stroke="#8a36dc" stroke-width="0.7"/><circle cx="325.81" cy="360.97" r="3.4" fill="#fbeeff" opacity="0.65"/><circle cx="325.81" cy="360.97" r="2.7" fill="#a44af8" stroke="#8a36dc" stroke-width="0.7"/><circle cx="345.33" cy="360.97" r="3.4" fill="#fbeeff" opacity="0.65"/><circle cx="345.33" cy="360.97" r="2.7" fill="#a44af8" stroke="#8a36dc" stroke-width="0.7"/><circle cx="364.85" cy="360.97" r="3.4" fill="#fbeeff" opacity="0.65"/><circle cx="364.85" cy="360.97" r="2.7" fill="#a44af8" stroke="#8a36dc" stroke-width="0.7"/><circle cx="384.37" cy="360.97" r="3.4" fill="#fbeeff" opacity="0.65"/><circle cx="384.37" cy="360.97" r="2.7" fill="#a44af8" stroke="#8a36dc" stroke-width="0.7"/><circle cx="403.89" cy="360.97" r="3.4" fill="#fbeeff" opacity="0.65"/><circle cx="403.89" cy="360.97" r="2.7" fill="#a44af8" stroke="#8a36dc" stroke-width="0.7"/><circle cx="423.41" cy="360.97" r="3.4" fill="#fbeeff" opacity="0.65"/><circle cx="423.41" cy="360.97" r="2.7" fill="#a44af8" stroke="#8a36dc" stroke-width="0.7"/><circle cx="462.45" cy="360.97" r="3.4" fill="#fbeeff" opacity="0.65"/><circle cx="462.45" cy="360.97" r="2.7" fill="#a44af8" stroke="#8a36dc" stroke-width="0.7"/><circle cx="150.13" cy="380.54" r="3.4" fill="#fbeeff" opacity="0.65"/><circle cx="150.13" cy="380.54" r="2.7" fill="#a44af8" stroke="#8a36dc" stroke-width="0.7"/><circle cx="169.65" cy="380.54" r="3.4" fill="#fbeeff" opacity="0.65"/><circle cx="169.65" cy="380.54" r="2.7" fill="#a44af8" stroke="#8a36dc" stroke-width="0.7"/><circle cx="189.17" cy="380.54" r="3.4" fill="#fbeeff" opacity="0.65"/><circle cx="189.17" cy="380.54" r="2.7" fill="#a44af8" stroke="#8a36dc" stroke-width="0.7"/><circle cx="208.69" cy="380.54" r="2.7" fill="#a44af8" stroke="#8a36dc" stroke-width="0.7" opacity="0.6"/><circle cx="216.51" cy="368.84" r="3.4" fill="#fbeeff" opacity="0.65"/><circle cx="216.51" cy="368.84" r="2.7" fill="#121212" stroke="#000000" stroke-width="0.7"/><circle cx="228.21" cy="368.84" r="3.4" fill="#fbeeff" opacity="0.65"/><circle cx="228.21" cy="368.84" r="2.7" fill="#ffa11c" stroke="#e08a0c" stroke-width="0.7"/><circle cx="216.51" cy="380.54" r="3.4" fill="#fbeeff" opacity="0.65"/><circle cx="216.51" cy="380.54" r="2.7" fill="#28f228" stroke="#16c416" stroke-width="0.7"/><circle cx="228.21" cy="380.54" r="3.4" fill="#fbeeff" opacity="0.65"/><circle cx="228.21" cy="380.54" r="2.7" fill="#a44af8" stroke="#8a36dc" stroke-width="0.7"/><circle cx="236.03" cy="368.84" r="3.4" fill="#fbeeff" opacity="0.65"/><circle cx="236.03" cy="368.84" r="2.7" fill="#121212" stroke="#000000" stroke-width="0.7"/><circle cx="236.03" cy="380.54" r="3.4" fill="#fbeeff" opacity="0.65"/><circle cx="236.03" cy="380.54" r="2.7" fill="#28f228" stroke="#16c416" stroke-width="0.7"/><circle cx="247.73" cy="380.54" r="3.4" fill="#fbeeff" opacity="0.65"/><circle cx="247.73" cy="380.54" r="2.7" fill="#a44af8" stroke="#8a36dc" stroke-width="0.7"/><circle cx="255.55" cy="368.84" r="3.4" fill="#fbeeff" opacity="0.65"/><circle cx="255.55" cy="368.84" r="2.7" fill="#121212" stroke="#000000" stroke-width="0.7"/><circle cx="255.55" cy="380.54" r="3.4" fill="#fbeeff" opacity="0.65"/><circle cx="255.55" cy="380.54" r="2.7" fill="#28f228" stroke="#16c416" stroke-width="0.7"/><circle cx="267.25" cy="380.54" r="3.4" fill="#fbeeff" opacity="0.65"/><circle cx="267.25" cy="380.54" r="2.7" fill="#a44af8" stroke="#8a36dc" stroke-width="0.7"/><circle cx="286.77" cy="380.54" r="3.4" fill="#fbeeff" opacity="0.65"/><circle cx="286.77" cy="380.54" r="2.7" fill="#a44af8" stroke="#8a36dc" stroke-width="0.7"/><circle cx="306.29" cy="380.54" r="3.4" fill="#fbeeff" opacity="0.65"/><circle cx="306.29" cy="380.54" r="2.7" fill="#a44af8" stroke="#8a36dc" stroke-width="0.7"/><circle cx="325.81" cy="380.54" r="3.4" fill="#fbeeff" opacity="0.65"/><circle cx="325.81" cy="380.54" r="2.7" fill="#a44af8" stroke="#8a36dc" stroke-width="0.7"/><circle cx="345.33" cy="380.54" r="3.4" fill="#fbeeff" opacity="0.65"/><circle cx="345.33" cy="380.54" r="2.7" fill="#a44af8" stroke="#8a36dc" stroke-width="0.7"/><circle cx="364.85" cy="380.54" r="3.4" fill="#fbeeff" opacity="0.65"/><circle cx="364.85" cy="380.54" r="2.7" fill="#a44af8" stroke="#8a36dc" stroke-width="0.7"/><circle cx="384.37" cy="380.54" r="3.4" fill="#fbeeff" opacity="0.65"/><circle cx="384.37" cy="380.54" r="2.7" fill="#a44af8" stroke="#8a36dc" stroke-width="0.7"/><circle cx="423.41" cy="380.54" r="3.4" fill="#fbeeff" opacity="0.65"/><circle cx="423.41" cy="380.54" r="2.7" fill="#a44af8" stroke="#8a36dc" stroke-width="0.7"/><circle cx="169.65" cy="400.10" r="3.4" fill="#fbeeff" opacity="0.65"/><circle cx="169.65" cy="400.10" r="2.7" fill="#a44af8" stroke="#8a36dc" stroke-width="0.7"/><circle cx="189.17" cy="400.10" r="2.7" fill="#a44af8" stroke="#8a36dc" stroke-width="0.7" opacity="0.6"/><circle cx="196.99" cy="388.40" r="3.4" fill="#fbeeff" opacity="0.65"/><circle cx="196.99" cy="388.40" r="2.7" fill="#121212" stroke="#000000" stroke-width="0.7"/><circle cx="208.69" cy="388.40" r="3.4" fill="#fbeeff" opacity="0.65"/><circle cx="208.69" cy="388.40" r="2.7" fill="#ffa11c" stroke="#e08a0c" stroke-width="0.7"/><circle cx="196.99" cy="400.10" r="3.4" fill="#fbeeff" opacity="0.65"/><circle cx="196.99" cy="400.10" r="2.7" fill="#28f228" stroke="#16c416" stroke-width="0.7"/><circle cx="208.69" cy="400.10" r="3.4" fill="#fbeeff" opacity="0.65"/><circle cx="208.69" cy="400.10" r="2.7" fill="#a44af8" stroke="#8a36dc" stroke-width="0.7"/><circle cx="216.51" cy="388.40" r="3.4" fill="#fbeeff" opacity="0.65"/><circle cx="216.51" cy="388.40" r="2.7" fill="#121212" stroke="#000000" stroke-width="0.7"/><circle cx="216.51" cy="400.10" r="3.4" fill="#fbeeff" opacity="0.65"/><circle cx="216.51" cy="400.10" r="2.7" fill="#28f228" stroke="#16c416" stroke-width="0.7"/><circle cx="228.21" cy="400.10" r="3.4" fill="#fbeeff" opacity="0.65"/><circle cx="228.21" cy="400.10" r="2.7" fill="#a44af8" stroke="#8a36dc" stroke-width="0.7"/><circle cx="247.73" cy="400.10" r="2.7" fill="#a44af8" stroke="#8a36dc" stroke-width="0.7" opacity="0.6"/><circle cx="267.25" cy="400.10" r="2.7" fill="#a44af8" stroke="#8a36dc" stroke-width="0.7" opacity="0.6"/><circle cx="286.77" cy="400.10" r="3.4" fill="#fbeeff" opacity="0.65"/><circle cx="286.77" cy="400.10" r="2.7" fill="#a44af8" stroke="#8a36dc" stroke-width="0.7"/><circle cx="345.33" cy="400.10" r="3.4" fill="#fbeeff" opacity="0.65"/><circle cx="345.33" cy="400.10" r="2.7" fill="#a44af8" stroke="#8a36dc" stroke-width="0.7"/><circle cx="111.09" cy="419.67" r="3.4" fill="#fbeeff" opacity="0.65"/><circle cx="111.09" cy="419.67" r="2.7" fill="#a44af8" stroke="#8a36dc" stroke-width="0.7"/><circle cx="130.61" cy="419.67" r="3.4" fill="#fbeeff" opacity="0.65"/><circle cx="130.61" cy="419.67" r="2.7" fill="#a44af8" stroke="#8a36dc" stroke-width="0.7"/><circle cx="150.13" cy="419.67" r="3.4" fill="#fbeeff" opacity="0.65"/><circle cx="150.13" cy="419.67" r="2.7" fill="#a44af8" stroke="#8a36dc" stroke-width="0.7"/><circle cx="169.65" cy="419.67" r="2.7" fill="#a44af8" stroke="#8a36dc" stroke-width="0.7" opacity="0.6"/><circle cx="177.47" cy="407.97" r="3.4" fill="#fbeeff" opacity="0.65"/><circle cx="177.47" cy="407.97" r="2.7" fill="#121212" stroke="#000000" stroke-width="0.7"/><circle cx="189.17" cy="407.97" r="3.4" fill="#fbeeff" opacity="0.65"/><circle cx="189.17" cy="407.97" r="2.7" fill="#ffa11c" stroke="#e08a0c" stroke-width="0.7"/><circle cx="177.47" cy="419.67" r="3.4" fill="#fbeeff" opacity="0.65"/><circle cx="177.47" cy="419.67" r="2.7" fill="#28f228" stroke="#16c416" stroke-width="0.7"/><circle cx="189.17" cy="419.67" r="3.4" fill="#fbeeff" opacity="0.65"/><circle cx="189.17" cy="419.67" r="2.7" fill="#a44af8" stroke="#8a36dc" stroke-width="0.7"/><circle cx="196.99" cy="407.97" r="3.4" fill="#fbeeff" opacity="0.65"/><circle cx="196.99" cy="407.97" r="2.7" fill="#121212" stroke="#000000" stroke-width="0.7"/><circle cx="196.99" cy="419.67" r="3.4" fill="#fbeeff" opacity="0.65"/><circle cx="196.99" cy="419.67" r="2.7" fill="#28f228" stroke="#16c416" stroke-width="0.7"/><circle cx="208.69" cy="419.67" r="3.4" fill="#fbeeff" opacity="0.65"/><circle cx="208.69" cy="419.67" r="2.7" fill="#a44af8" stroke="#8a36dc" stroke-width="0.7"/><circle cx="228.21" cy="419.67" r="3.4" fill="#fbeeff" opacity="0.65"/><circle cx="228.21" cy="419.67" r="2.7" fill="#a44af8" stroke="#8a36dc" stroke-width="0.7"/><circle cx="247.73" cy="419.67" r="3.4" fill="#fbeeff" opacity="0.65"/><circle cx="247.73" cy="419.67" r="2.7" fill="#a44af8" stroke="#8a36dc" stroke-width="0.7"/><circle cx="267.25" cy="419.67" r="3.4" fill="#fbeeff" opacity="0.65"/><circle cx="267.25" cy="419.67" r="2.7" fill="#a44af8" stroke="#8a36dc" stroke-width="0.7"/><circle cx="306.29" cy="419.67" r="3.4" fill="#fbeeff" opacity="0.65"/><circle cx="306.29" cy="419.67" r="2.7" fill="#a44af8" stroke="#8a36dc" stroke-width="0.7"/><circle cx="345.33" cy="419.67" r="3.4" fill="#fbeeff" opacity="0.65"/><circle cx="345.33" cy="419.67" r="2.7" fill="#a44af8" stroke="#8a36dc" stroke-width="0.7"/><circle cx="384.37" cy="419.67" r="3.4" fill="#fbeeff" opacity="0.65"/><circle cx="384.37" cy="419.67" r="2.7" fill="#a44af8" stroke="#8a36dc" stroke-width="0.7"/><circle cx="111.09" cy="439.23" r="3.4" fill="#fbeeff" opacity="0.65"/><circle cx="111.09" cy="439.23" r="2.7" fill="#a44af8" stroke="#8a36dc" stroke-width="0.7"/><circle cx="130.61" cy="439.23" r="3.4" fill="#fbeeff" opacity="0.65"/><circle cx="130.61" cy="439.23" r="2.7" fill="#a44af8" stroke="#8a36dc" stroke-width="0.7"/><circle cx="150.13" cy="439.23" r="3.4" fill="#fbeeff" opacity="0.65"/><circle cx="150.13" cy="439.23" r="2.7" fill="#a44af8" stroke="#8a36dc" stroke-width="0.7"/><circle cx="169.65" cy="427.53" r="3.4" fill="#fbeeff" opacity="0.65"/><circle cx="169.65" cy="427.53" r="2.7" fill="#ffa11c" stroke="#e08a0c" stroke-width="0.7"/><circle cx="157.95" cy="439.23" r="3.4" fill="#fbeeff" opacity="0.65"/><circle cx="157.95" cy="439.23" r="2.7" fill="#28f228" stroke="#16c416" stroke-width="0.7"/><circle cx="169.65" cy="439.23" r="3.4" fill="#fbeeff" opacity="0.65"/><circle cx="169.65" cy="439.23" r="2.7" fill="#a44af8" stroke="#8a36dc" stroke-width="0.7"/><circle cx="189.17" cy="427.53" r="3.4" fill="#fbeeff" opacity="0.65"/><circle cx="189.17" cy="427.53" r="2.7" fill="#ffa11c" stroke="#e08a0c" stroke-width="0.7"/><circle cx="177.47" cy="439.23" r="3.4" fill="#fbeeff" opacity="0.65"/><circle cx="177.47" cy="439.23" r="2.7" fill="#28f228" stroke="#16c416" stroke-width="0.7"/><circle cx="189.17" cy="439.23" r="3.4" fill="#fbeeff" opacity="0.65"/><circle cx="189.17" cy="439.23" r="2.7" fill="#a44af8" stroke="#8a36dc" stroke-width="0.7"/><circle cx="208.69" cy="439.23" r="3.4" fill="#fbeeff" opacity="0.65"/><circle cx="208.69" cy="439.23" r="2.7" fill="#a44af8" stroke="#8a36dc" stroke-width="0.7"/><circle cx="228.21" cy="439.23" r="2.7" fill="#a44af8" stroke="#8a36dc" stroke-width="0.7" opacity="0.6"/><circle cx="247.73" cy="439.23" r="3.4" fill="#fbeeff" opacity="0.65"/><circle cx="247.73" cy="439.23" r="2.7" fill="#a44af8" stroke="#8a36dc" stroke-width="0.7"/><circle cx="286.77" cy="439.23" r="3.4" fill="#fbeeff" opacity="0.65"/><circle cx="286.77" cy="439.23" r="2.7" fill="#a44af8" stroke="#8a36dc" stroke-width="0.7"/><circle cx="306.29" cy="439.23" r="3.4" fill="#fbeeff" opacity="0.65"/><circle cx="306.29" cy="439.23" r="2.7" fill="#a44af8" stroke="#8a36dc" stroke-width="0.7"/><circle cx="111.09" cy="458.79" r="3.4" fill="#fbeeff" opacity="0.65"/><circle cx="111.09" cy="458.79" r="2.7" fill="#a44af8" stroke="#8a36dc" stroke-width="0.7"/><circle cx="130.61" cy="458.79" r="2.7" fill="#a44af8" stroke="#8a36dc" stroke-width="0.7" opacity="0.6"/><circle cx="150.13" cy="458.79" r="3.4" fill="#fbeeff" opacity="0.65"/><circle cx="150.13" cy="458.79" r="2.7" fill="#a44af8" stroke="#8a36dc" stroke-width="0.7"/><circle cx="157.95" cy="447.09" r="3.4" fill="#fbeeff" opacity="0.65"/><circle cx="157.95" cy="447.09" r="2.7" fill="#121212" stroke="#000000" stroke-width="0.7"/><circle cx="169.65" cy="447.09" r="3.4" fill="#fbeeff" opacity="0.65"/><circle cx="169.65" cy="447.09" r="2.7" fill="#ffa11c" stroke="#e08a0c" stroke-width="0.7"/><circle cx="157.95" cy="458.79" r="3.4" fill="#fbeeff" opacity="0.65"/><circle cx="157.95" cy="458.79" r="2.7" fill="#28f228" stroke="#16c416" stroke-width="0.7"/><circle cx="169.65" cy="458.79" r="3.4" fill="#fbeeff" opacity="0.65"/><circle cx="169.65" cy="458.79" r="2.7" fill="#a44af8" stroke="#8a36dc" stroke-width="0.7"/><circle cx="189.17" cy="458.79" r="3.4" fill="#fbeeff" opacity="0.65"/><circle cx="189.17" cy="458.79" r="2.7" fill="#a44af8" stroke="#8a36dc" stroke-width="0.7"/><circle cx="208.69" cy="458.79" r="3.4" fill="#fbeeff" opacity="0.65"/><circle cx="208.69" cy="458.79" r="2.7" fill="#a44af8" stroke="#8a36dc" stroke-width="0.7"/><circle cx="228.21" cy="458.79" r="3.4" fill="#fbeeff" opacity="0.65"/><circle cx="228.21" cy="458.79" r="2.7" fill="#a44af8" stroke="#8a36dc" stroke-width="0.7"/><circle cx="247.73" cy="458.79" r="3.4" fill="#fbeeff" opacity="0.65"/><circle cx="247.73" cy="458.79" r="2.7" fill="#a44af8" stroke="#8a36dc" stroke-width="0.7"/><circle cx="267.25" cy="458.79" r="3.4" fill="#fbeeff" opacity="0.65"/><circle cx="267.25" cy="458.79" r="2.7" fill="#a44af8" stroke="#8a36dc" stroke-width="0.7"/><circle cx="91.57" cy="478.36" r="3.4" fill="#fbeeff" opacity="0.65"/><circle cx="91.57" cy="478.36" r="2.7" fill="#a44af8" stroke="#8a36dc" stroke-width="0.7"/><circle cx="111.09" cy="478.36" r="3.4" fill="#fbeeff" opacity="0.65"/><circle cx="111.09" cy="478.36" r="2.7" fill="#a44af8" stroke="#8a36dc" stroke-width="0.7"/><circle cx="130.61" cy="466.66" r="3.4" fill="#fbeeff" opacity="0.65"/><circle cx="130.61" cy="466.66" r="2.7" fill="#ffa11c" stroke="#e08a0c" stroke-width="0.7"/><circle cx="130.61" cy="478.36" r="3.4" fill="#fbeeff" opacity="0.65"/><circle cx="130.61" cy="478.36" r="2.7" fill="#a44af8" stroke="#8a36dc" stroke-width="0.7"/><circle cx="150.13" cy="466.66" r="3.4" fill="#fbeeff" opacity="0.65"/><circle cx="150.13" cy="466.66" r="2.7" fill="#ffa11c" stroke="#e08a0c" stroke-width="0.7"/><circle cx="150.13" cy="478.36" r="3.4" fill="#fbeeff" opacity="0.65"/><circle cx="150.13" cy="478.36" r="2.7" fill="#a44af8" stroke="#8a36dc" stroke-width="0.7"/><circle cx="169.65" cy="478.36" r="3.4" fill="#fbeeff" opacity="0.65"/><circle cx="169.65" cy="478.36" r="2.7" fill="#a44af8" stroke="#8a36dc" stroke-width="0.7"/><circle cx="189.17" cy="478.36" r="3.4" fill="#fbeeff" opacity="0.65"/><circle cx="189.17" cy="478.36" r="2.7" fill="#a44af8" stroke="#8a36dc" stroke-width="0.7"/><circle cx="208.69" cy="478.36" r="3.4" fill="#fbeeff" opacity="0.65"/><circle cx="208.69" cy="478.36" r="2.7" fill="#a44af8" stroke="#8a36dc" stroke-width="0.7"/><circle cx="228.21" cy="478.36" r="3.4" fill="#fbeeff" opacity="0.65"/><circle cx="228.21" cy="478.36" r="2.7" fill="#a44af8" stroke="#8a36dc" stroke-width="0.7"/><circle cx="91.57" cy="486.22" r="3.4" fill="#fbeeff" opacity="0.65"/><circle cx="91.57" cy="486.22" r="2.7" fill="#ffa11c" stroke="#e08a0c" stroke-width="0.7"/><circle cx="79.87" cy="497.92" r="3.4" fill="#fbeeff" opacity="0.65"/><circle cx="79.87" cy="497.92" r="2.7" fill="#28f228" stroke="#16c416" stroke-width="0.7"/><circle cx="91.57" cy="497.92" r="3.4" fill="#fbeeff" opacity="0.65"/><circle cx="91.57" cy="497.92" r="2.7" fill="#a44af8" stroke="#8a36dc" stroke-width="0.7"/><circle cx="99.39" cy="497.92" r="3.4" fill="#fbeeff" opacity="0.65"/><circle cx="99.39" cy="497.92" r="2.7" fill="#28f228" stroke="#16c416" stroke-width="0.7"/><circle cx="111.09" cy="497.92" r="3.4" fill="#fbeeff" opacity="0.65"/><circle cx="111.09" cy="497.92" r="2.7" fill="#a44af8" stroke="#8a36dc" stroke-width="0.7"/><circle cx="130.61" cy="497.92" r="3.4" fill="#fbeeff" opacity="0.65"/><circle cx="130.61" cy="497.92" r="2.7" fill="#a44af8" stroke="#8a36dc" stroke-width="0.7"/><circle cx="150.13" cy="497.92" r="2.7" fill="#a44af8" stroke="#8a36dc" stroke-width="0.7" opacity="0.6"/><circle cx="169.65" cy="497.92" r="3.4" fill="#fbeeff" opacity="0.65"/><circle cx="169.65" cy="497.92" r="2.7" fill="#a44af8" stroke="#8a36dc" stroke-width="0.7"/><circle cx="189.17" cy="497.92" r="3.4" fill="#fbeeff" opacity="0.65"/><circle cx="189.17" cy="497.92" r="2.7" fill="#a44af8" stroke="#8a36dc" stroke-width="0.7"/><circle cx="208.69" cy="497.92" r="3.4" fill="#fbeeff" opacity="0.65"/><circle cx="208.69" cy="497.92" r="2.7" fill="#a44af8" stroke="#8a36dc" stroke-width="0.7"/><circle cx="228.21" cy="497.92" r="3.4" fill="#fbeeff" opacity="0.65"/><circle cx="228.21" cy="497.92" r="2.7" fill="#a44af8" stroke="#8a36dc" stroke-width="0.7"/><circle cx="72.05" cy="517.49" r="3.4" fill="#fbeeff" opacity="0.65"/><circle cx="72.05" cy="517.49" r="2.7" fill="#a44af8" stroke="#8a36dc" stroke-width="0.7"/><circle cx="79.87" cy="505.79" r="3.4" fill="#fbeeff" opacity="0.65"/><circle cx="79.87" cy="505.79" r="2.7" fill="#121212" stroke="#000000" stroke-width="0.7"/><circle cx="91.57" cy="505.79" r="3.4" fill="#fbeeff" opacity="0.65"/><circle cx="91.57" cy="505.79" r="2.7" fill="#ffa11c" stroke="#e08a0c" stroke-width="0.7"/><circle cx="79.87" cy="517.49" r="3.4" fill="#fbeeff" opacity="0.65"/><circle cx="79.87" cy="517.49" r="2.7" fill="#28f228" stroke="#16c416" stroke-width="0.7"/><circle cx="91.57" cy="517.49" r="3.4" fill="#fbeeff" opacity="0.65"/><circle cx="91.57" cy="517.49" r="2.7" fill="#a44af8" stroke="#8a36dc" stroke-width="0.7"/><circle cx="111.09" cy="517.49" r="3.4" fill="#fbeeff" opacity="0.65"/><circle cx="111.09" cy="517.49" r="2.7" fill="#a44af8" stroke="#8a36dc" stroke-width="0.7"/><circle cx="130.61" cy="517.49" r="3.4" fill="#fbeeff" opacity="0.65"/><circle cx="130.61" cy="517.49" r="2.7" fill="#a44af8" stroke="#8a36dc" stroke-width="0.7"/><circle cx="169.65" cy="517.49" r="3.4" fill="#fbeeff" opacity="0.65"/><circle cx="169.65" cy="517.49" r="2.7" fill="#a44af8" stroke="#8a36dc" stroke-width="0.7"/><circle cx="91.57" cy="537.05" r="3.4" fill="#fbeeff" opacity="0.65"/><circle cx="91.57" cy="537.05" r="2.7" fill="#a44af8" stroke="#8a36dc" stroke-width="0.7"/></g>
<g><rect x="643.16" y="13.87" width="17.28" height="17.32" fill="none" stroke="#000" stroke-width="1.55"/><rect x="643.16" y="33.44" width="17.28" height="17.32" fill="none" stroke="#000" stroke-width="1.55"/><rect x="604.12" y="53.00" width="17.28" height="17.32" fill="none" stroke="#000" stroke-width="1.55"/><rect x="604.12" y="72.57" width="17.28" height="17.32" fill="none" stroke="#000" stroke-width="1.55"/><rect x="565.08" y="92.13" width="17.28" height="17.32" fill="none" stroke="#000" stroke-width="1.55"/><rect x="526.04" y="111.69" width="17.28" height="17.32" fill="none" stroke="#000" stroke-width="1.55"/><rect x="447.96" y="131.26" width="17.28" height="17.32" fill="none" stroke="#000" stroke-width="1.55"/><rect x="447.96" y="150.82" width="17.28" height="17.32" fill="none" stroke="#000" stroke-width="1.55"/><rect x="487.00" y="170.39" width="17.28" height="17.32" fill="none" stroke="#000" stroke-width="1.55"/><rect x="408.92" y="189.95" width="17.28" height="17.32" fill="none" stroke="#000" stroke-width="1.55"/><rect x="369.88" y="209.51" width="17.28" height="17.32" fill="none" stroke="#000" stroke-width="1.55"/><rect x="369.88" y="229.08" width="17.28" height="17.32" fill="none" stroke="#000" stroke-width="1.55"/><rect x="330.84" y="248.64" width="17.28" height="17.32" fill="none" stroke="#000" stroke-width="1.55"/><rect x="330.84" y="268.21" width="17.28" height="17.32" fill="none" stroke="#000" stroke-width="1.55"/><rect x="291.80" y="287.77" width="17.28" height="17.32" fill="none" stroke="#000" stroke-width="1.55"/><rect x="291.80" y="307.33" width="17.28" height="17.32" fill="none" stroke="#000" stroke-width="1.55"/><rect x="252.76" y="326.90" width="17.28" height="17.32" fill="none" stroke="#000" stroke-width="1.55"/><rect x="252.76" y="346.46" width="17.28" height="17.32" fill="none" stroke="#000" stroke-width="1.55"/><rect x="213.72" y="366.03" width="17.28" height="17.32" fill="none" stroke="#000" stroke-width="1.55"/><rect x="194.20" y="385.59" width="17.28" height="17.32" fill="none" stroke="#000" stroke-width="1.55"/><rect x="174.68" y="405.15" width="17.28" height="17.32" fill="none" stroke="#000" stroke-width="1.55"/><rect x="174.68" y="424.72" width="17.28" height="17.32" fill="none" stroke="#000" stroke-width="1.55"/><rect x="155.16" y="444.28" width="17.28" height="17.32" fill="none" stroke="#000" stroke-width="1.55"/><rect x="135.64" y="463.85" width="17.28" height="17.32" fill="none" stroke="#000" stroke-width="1.55"/><rect x="96.60" y="483.41" width="17.28" height="17.32" fill="none" stroke="#000" stroke-width="1.55"/><rect x="57.56" y="502.97" width="17.28" height="17.32" fill="none" stroke="#000" stroke-width="1.55"/></g>
<g stroke="#000" stroke-opacity="0.58" stroke-width="0.9" stroke-dasharray="1.4 3.07" fill="none"><line x1="66.20" y1="550.95" x2="66.20" y2="3.00" stroke-dasharray="1.4 3.175" stroke-dashoffset="-0.25"/><line x1="163.80" y1="550.95" x2="163.80" y2="3.00" stroke-dasharray="1.4 3.175" stroke-dashoffset="-0.25"/><line x1="261.40" y1="550.95" x2="261.40" y2="3.00" stroke-dasharray="1.4 3.175" stroke-dashoffset="-0.25"/><line x1="359.00" y1="550.95" x2="359.00" y2="3.00" stroke-dasharray="1.4 3.175" stroke-dashoffset="-0.25"/><line x1="456.60" y1="550.95" x2="456.60" y2="3.00" stroke-dasharray="1.4 3.175" stroke-dashoffset="-0.25"/><line x1="554.20" y1="550.95" x2="554.20" y2="3.00" stroke-dasharray="1.4 3.175" stroke-dashoffset="-0.25"/><line x1="651.80" y1="550.95" x2="651.80" y2="3.00" stroke-dasharray="1.4 3.175" stroke-dashoffset="-0.25"/><line x1="46.70" y1="531.20" x2="671.40" y2="531.20"/><line x1="46.70" y1="433.38" x2="671.40" y2="433.38"/><line x1="46.70" y1="335.56" x2="671.40" y2="335.56"/><line x1="46.70" y1="237.74" x2="671.40" y2="237.74"/><line x1="46.70" y1="139.92" x2="671.40" y2="139.92"/><line x1="46.70" y1="42.10" x2="671.40" y2="42.10"/></g>

<g>
  <defs>
    <radialGradient id="glow" cx="50%" cy="50%" r="50%">
      <stop offset="0%" stop-color="#ef9a9a"/>
      <stop offset="70%" stop-color="#f0a2a2"/>
      <stop offset="88%" stop-color="#f5c4c4" stop-opacity="0.7"/>
      <stop offset="100%" stop-color="#fadcdc" stop-opacity="0"/>
    </radialGradient>
    <radialGradient id="eye" cx="50%" cy="50%" r="50%">
      <stop offset="0%" stop-color="#ffffff"/>
      <stop offset="55%" stop-color="#fbeef0"/>
      <stop offset="100%" stop-color="#f3b6b8"/>
    </radialGradient>
  </defs>
  <ellipse cx="616" cy="486.5" rx="26" ry="17.5" transform="rotate(40 616 486.5)" fill="url(#glow)"/>
  <ellipse cx="615.4" cy="487.1" rx="15" ry="5" transform="rotate(45 615.4 487.1)" fill="url(#eye)"/>
  <circle cx="615.6" cy="487.1" r="2.2" fill="#141414"/>
  <g stroke="#f4f4a8" stroke-width="3" fill="none" stroke-linecap="round" opacity="0.7">
    <line x1="619.3" y1="479.1" x2="636" y2="471.2"/>
    <line x1="624.7" y1="481.8" x2="642" y2="473.4"/>
    <line x1="624.7" y1="486.7" x2="642" y2="478.8"/>
  </g>
  <g stroke="#dcdc55" stroke-width="1.5" fill="none" stroke-linecap="round">
    <line x1="619.3" y1="479.1" x2="636" y2="471.2"/>
    <line x1="624.7" y1="481.8" x2="642" y2="473.4"/>
    <line x1="624.7" y1="486.7" x2="642" y2="478.8"/>
  </g>
  <g fill="#dede5a">
    <path d="M638.5,470 l-4.2,-0.6 l1.9,4.3 z"/>
    <path d="M644.5,472.2 l-4.2,-0.6 l1.9,4.3 z"/>
    <path d="M644.5,477.6 l-4.2,-0.6 l1.9,4.3 z"/>
  </g>
  <g fill="none" stroke="#68a6dc" stroke-width="1.8" stroke-linecap="round" stroke-linejoin="round">
    <path d="M604.2,503.8 C600,501 594,497.3 590.9,495.3 C587,492.8 585,491.2 583.8,490.4 C579,487 572,484.2 566.9,483.8 C563,483.6 561,484 561.6,485.1 C562.5,487 564,489 566,490.4 C568,492.5 569.5,494 571.3,495.8 C574,498.5 576,500.5 577.6,502 C580,504.5 582,506 583.8,507.3 C585.5,508.3 587,508.8 588.2,509.1"/>
    <path d="M570.4,497.1 C575,496.3 580,495.8 584.7,495.3 C588,494.8 592,494 595.3,493.1 C599,492.2 602,491.3 604.7,490.4"/>
    <path d="M572.2,497.1 C570,498.3 568.5,499.6 568.7,501.1 C568.9,503 569.8,505 571.3,506.4 C573.5,508.5 576,509.7 578.4,510.4 C580.5,511 582.8,511.5 584.7,511.8"/>
    <path d="M587.3,504.7 C590,503.8 593,502.8 595.3,502 C597.2,501.3 599,500.4 600.7,499.3 C603.5,497.6 606,496 608.7,494.4"/>
    <path d="M589.1,507.3 C588.4,509 587.8,511 588.2,512.7 C588.7,514.5 590,515.6 591.8,516.2 C594.5,517 597.5,517.2 600.7,517.1 C604.5,517 608,516.8 611.3,516.2 C613.5,515.6 615.3,514.7 615.8,513.6 C616.2,512.5 615.6,511.8 614.9,511.3 C612.8,510.2 610.3,509.6 607.8,509.1 C604.5,508.4 601.2,507.8 598,507.3 C595.8,507 593.8,506.7 591.8,506.4"/>
    <path d="M586.4,504.2 L590,505.6"/>
  </g>
  <text x="566" y="474.9" style="font-family:'Liberation Sans';font-weight:bold;font-size:8.4px;fill:#303030;letter-spacing:0.5px">N<tspan style="font-size:6.3px">EU</tspan>C<tspan style="font-size:6.3px">OS</tspan></text>
</g>

<g><rect x="70.2" y="16.65" width="16" height="15.7" fill="#bfbfbf" stroke="#7a7a7a" stroke-width="1.2"/><rect x="70.2" y="41.20" width="16" height="15.7" fill="#c9ebfb" stroke="#8fa3ad" stroke-width="1.2"/><rect x="70.2" y="65.75" width="16" height="15.7" fill="#7b7bf5" stroke="#45458f" stroke-width="1.2"/><rect x="70.2" y="90.30" width="16" height="15.7" fill="#fdfd7e" stroke="#8f8f40" stroke-width="1.2"/><rect x="70.2" y="114.85" width="16" height="15.7" fill="#f0146a" stroke="#85103f" stroke-width="1.2"/><circle cx="78.1" cy="147.25" r="4.85" fill="#000000" stroke="#000000" stroke-width="0.8"/><circle cx="78.1" cy="171.80" r="4.85" fill="#f59a1c" stroke="#9a5a10" stroke-width="0.8"/><circle cx="78.1" cy="196.35" r="4.85" fill="#2ee82e" stroke="#1a8a1a" stroke-width="0.8"/><circle cx="78.1" cy="220.90" r="4.85" fill="#9a44ee" stroke="#5a2a90" stroke-width="0.8"/><rect x="70.2" y="236.95" width="15.8" height="16.0" fill="#fff" stroke="#000" stroke-width="1.65"/><text x="108.2" y="30.30" textLength="191.2" lengthAdjust="spacingAndGlyphs">TALYS 1.8 + CRPropa 2</text><text x="108.2" y="54.85" textLength="128.6" lengthAdjust="spacingAndGlyphs">Astro, priority 2</text><text x="108.2" y="79.40" textLength="127.8" lengthAdjust="spacingAndGlyphs">Astro, priority 1</text><text x="108.2" y="103.95" textLength="96.0" lengthAdjust="spacingAndGlyphs">EXFOR, any</text><text x="108.2" y="128.50" textLength="59.5" lengthAdjust="spacingAndGlyphs">EXFOR,</text><text x="174.2" y="128.50" style="font-family:'Liberation Serif';font-style:italic;font-size:15.5px">&#963;</text><text x="183.6" y="130.90" textLength="16.4" lengthAdjust="spacingAndGlyphs" style="font-family:'Liberation Serif';font-size:12.2px">abs</text><text x="108.2" y="153.05" textLength="108.7" lengthAdjust="spacingAndGlyphs">ENDF-B-VII.1</text><text x="108.2" y="177.60" textLength="124.4" lengthAdjust="spacingAndGlyphs">JENDL-PD-2004</text><text x="108.2" y="202.15" textLength="31.3" lengthAdjust="spacingAndGlyphs">PSB</text><text x="108.2" y="226.70" textLength="66.4" lengthAdjust="spacingAndGlyphs">PEANUT</text><text x="108.2" y="251.25" textLength="119.3" lengthAdjust="spacingAndGlyphs">Astro, injected</text></g>
<g stroke="#000" stroke-width="1"><line x1="66.20" y1="550.95" x2="66.20" y2="545.95"/><line x1="66.20" y1="3.00" x2="66.20" y2="8.00"/><line x1="163.80" y1="550.95" x2="163.80" y2="545.95"/><line x1="163.80" y1="3.00" x2="163.80" y2="8.00"/><line x1="261.40" y1="550.95" x2="261.40" y2="545.95"/><line x1="261.40" y1="3.00" x2="261.40" y2="8.00"/><line x1="359.00" y1="550.95" x2="359.00" y2="545.95"/><line x1="359.00" y1="3.00" x2="359.00" y2="8.00"/><line x1="456.60" y1="550.95" x2="456.60" y2="545.95"/><line x1="456.60" y1="3.00" x2="456.60" y2="8.00"/><line x1="554.20" y1="550.95" x2="554.20" y2="545.95"/><line x1="554.20" y1="3.00" x2="554.20" y2="8.00"/><line x1="651.80" y1="550.95" x2="651.80" y2="545.95"/><line x1="651.80" y1="3.00" x2="651.80" y2="8.00"/><line x1="46.70" y1="531.20" x2="51.70" y2="531.20"/><line x1="671.40" y1="531.20" x2="666.40" y2="531.20"/><line x1="46.70" y1="433.38" x2="51.70" y2="433.38"/><line x1="671.40" y1="433.38" x2="666.40" y2="433.38"/><line x1="46.70" y1="335.56" x2="51.70" y2="335.56"/><line x1="671.40" y1="335.56" x2="666.40" y2="335.56"/><line x1="46.70" y1="237.74" x2="51.70" y2="237.74"/><line x1="671.40" y1="237.74" x2="666.40" y2="237.74"/><line x1="46.70" y1="139.92" x2="51.70" y2="139.92"/><line x1="671.40" y1="139.92" x2="666.40" y2="139.92"/><line x1="46.70" y1="42.10" x2="51.70" y2="42.10"/><line x1="671.40" y1="42.10" x2="666.40" y2="42.10"/></g>
<rect x="46.7" y="3.0" width="624.70" height="547.95" fill="none" stroke="#000" stroke-width="1.2"/>
<g><text x="66.20" y="567.8" text-anchor="middle" textLength="10.0" lengthAdjust="spacingAndGlyphs">0</text><text x="163.80" y="567.8" text-anchor="middle" textLength="10.0" lengthAdjust="spacingAndGlyphs">5</text><text x="261.40" y="567.8" text-anchor="middle" textLength="20.0" lengthAdjust="spacingAndGlyphs">10</text><text x="359.00" y="567.8" text-anchor="middle" textLength="20.0" lengthAdjust="spacingAndGlyphs">15</text><text x="456.60" y="567.8" text-anchor="middle" textLength="20.0" lengthAdjust="spacingAndGlyphs">20</text><text x="554.20" y="567.8" text-anchor="middle" textLength="20.0" lengthAdjust="spacingAndGlyphs">25</text><text x="651.80" y="567.8" text-anchor="middle" textLength="20.0" lengthAdjust="spacingAndGlyphs">30</text><text x="41.4" y="536.10" text-anchor="end" textLength="10.0" lengthAdjust="spacingAndGlyphs">0</text><text x="41.4" y="438.28" text-anchor="end" textLength="10.0" lengthAdjust="spacingAndGlyphs">5</text><text x="41.4" y="340.46" text-anchor="end" textLength="20.0" lengthAdjust="spacingAndGlyphs">10</text><text x="41.4" y="242.64" text-anchor="end" textLength="20.0" lengthAdjust="spacingAndGlyphs">15</text><text x="41.4" y="144.82" text-anchor="end" textLength="20.0" lengthAdjust="spacingAndGlyphs">20</text><text x="41.4" y="47.00" text-anchor="end" textLength="20.0" lengthAdjust="spacingAndGlyphs">25</text><text x="359.3" y="588.8" text-anchor="middle">N</text><text transform="translate(13.6,277.7) rotate(-90)" text-anchor="middle" style="font-size:17px">Z</text></g>
</svg>
</body></html>
